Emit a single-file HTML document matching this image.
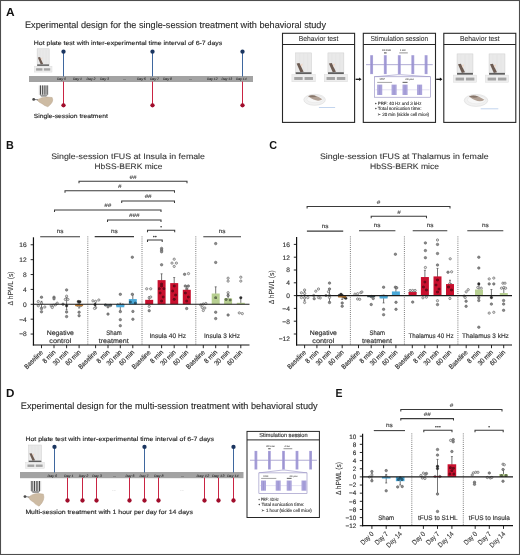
<!DOCTYPE html><html><head><meta charset="utf-8"><style>html,body{margin:0;padding:0;background:#fff;}svg{display:block;}text{font-family:"Liberation Sans",sans-serif;text-rendering:geometricPrecision;}svg{will-change:transform;}</style></head><body>
<svg width="520" height="555" viewBox="0 0 520 555" font-family='"Liberation Sans", sans-serif' fill="#2a2a2a">
<rect width="520" height="555" fill="#fff"/>
<rect x="0.50" y="0.50" width="519.00" height="554.00" fill="none" stroke="#4d4d4d" stroke-width="1.1" />
<text x="6.00" y="15.60" font-size="11.6" fill="#111" textLength="8.60" lengthAdjust="spacingAndGlyphs" font-weight="bold">A</text>
<text x="25.00" y="27.60" font-size="9.3" textLength="301.00" lengthAdjust="spacingAndGlyphs" stroke="#2a2a2a" stroke-width="0.112">Experimental design for the single-session treatment with behavioral study</text>
<text x="33.80" y="44.80" font-size="6.1" textLength="188.50" lengthAdjust="spacingAndGlyphs" stroke="#2a2a2a" stroke-width="0.152">Hot plate test with inter-experimental time interval of 6-7 days</text>
<text x="33.80" y="117.50" font-size="6.1" textLength="74.00" lengthAdjust="spacingAndGlyphs" stroke="#2a2a2a" stroke-width="0.152">Single-session treatment</text>
<rect x="29.00" y="76.00" width="224.00" height="6.00" fill="#a3a3a3" />
<text x="57.00" y="80.30" font-size="3.4" fill="#303030" textLength="9.00" lengthAdjust="spacingAndGlyphs" font-style="italic" stroke="#303030" stroke-width="0.085">Day 0</text>
<text x="73.00" y="80.30" font-size="3.4" fill="#303030" textLength="9.00" lengthAdjust="spacingAndGlyphs" font-style="italic" stroke="#303030" stroke-width="0.085">Day 1</text>
<text x="86.50" y="80.30" font-size="3.4" fill="#303030" textLength="9.00" lengthAdjust="spacingAndGlyphs" font-style="italic" stroke="#303030" stroke-width="0.085">Day 2</text>
<text x="100.00" y="80.30" font-size="3.4" fill="#303030" textLength="9.00" lengthAdjust="spacingAndGlyphs" font-style="italic" stroke="#303030" stroke-width="0.085">Day 3</text>
<text x="123.00" y="80.30" font-size="3.4" fill="#303030" textLength="3.00" lengthAdjust="spacingAndGlyphs" font-style="italic" stroke="#303030" stroke-width="0.085">...</text>
<text x="137.00" y="80.30" font-size="3.4" fill="#303030" textLength="9.00" lengthAdjust="spacingAndGlyphs" font-style="italic" stroke="#303030" stroke-width="0.085">Day 6</text>
<text x="150.00" y="80.30" font-size="3.4" fill="#303030" textLength="9.00" lengthAdjust="spacingAndGlyphs" font-style="italic" stroke="#303030" stroke-width="0.085">Day 7</text>
<text x="163.00" y="80.30" font-size="3.4" fill="#303030" textLength="9.00" lengthAdjust="spacingAndGlyphs" font-style="italic" stroke="#303030" stroke-width="0.085">Day 8</text>
<text x="189.00" y="80.30" font-size="3.4" fill="#303030" textLength="3.00" lengthAdjust="spacingAndGlyphs" font-style="italic" stroke="#303030" stroke-width="0.085">...</text>
<text x="207.00" y="80.30" font-size="3.4" fill="#303030" textLength="10.50" lengthAdjust="spacingAndGlyphs" font-style="italic" stroke="#303030" stroke-width="0.085">Day 12</text>
<text x="221.50" y="80.30" font-size="3.4" fill="#303030" textLength="10.50" lengthAdjust="spacingAndGlyphs" font-style="italic" stroke="#303030" stroke-width="0.085">Day 13</text>
<text x="236.00" y="80.30" font-size="3.4" fill="#303030" textLength="10.50" lengthAdjust="spacingAndGlyphs" font-style="italic" stroke="#303030" stroke-width="0.085">Day 14</text>
<line x1="63.50" y1="51.70" x2="63.50" y2="76.50" stroke="#3f679e" stroke-width="1.0" />
<circle cx="63.50" cy="51.70" r="2.15" fill="#1b3560"/>
<line x1="152.50" y1="51.70" x2="152.50" y2="76.50" stroke="#3f679e" stroke-width="1.0" />
<circle cx="152.50" cy="51.70" r="2.15" fill="#1b3560"/>
<line x1="242.50" y1="51.70" x2="242.50" y2="76.50" stroke="#3f679e" stroke-width="1.0" />
<circle cx="242.50" cy="51.70" r="2.15" fill="#1b3560"/>
<line x1="63.50" y1="81.50" x2="63.50" y2="105.30" stroke="#c92443" stroke-width="1.0" />
<circle cx="63.50" cy="105.30" r="2.15" fill="#a00d2b"/>
<line x1="152.50" y1="81.50" x2="152.50" y2="105.30" stroke="#c92443" stroke-width="1.0" />
<circle cx="152.50" cy="105.30" r="2.15" fill="#a00d2b"/>
<line x1="242.50" y1="81.50" x2="242.50" y2="105.30" stroke="#c92443" stroke-width="1.0" />
<circle cx="242.50" cy="105.30" r="2.15" fill="#a00d2b"/>
<rect x="37.13" y="48.80" width="12.04" height="15.61" fill="#e9e9e9" stroke="#cdcdcd" stroke-width="0.5" />
<line x1="40.14" y1="49.60" x2="40.14" y2="63.91" stroke="#dedede" stroke-width="0.35" />
<line x1="43.15" y1="49.60" x2="43.15" y2="63.91" stroke="#dedede" stroke-width="0.35" />
<line x1="46.16" y1="49.60" x2="46.16" y2="63.91" stroke="#dedede" stroke-width="0.35" />
<path d="M37.85 57.39 L40.02 56.92 L43.15 63.94 L40.74 64.41 Z" fill="#6d5c53"/>
<path d="M40.74 58.17 L42.55 57.39 L41.71 60.51 Z" fill="#f0d8c8"/>
<rect x="37.13" y="64.41" width="12.04" height="1.51" fill="#5f5f5f" />
<rect x="34.30" y="66.16" width="17.70" height="5.94" fill="#eeeeee" stroke="#d8d8d8" stroke-width="0.4" />
<rect x="36.07" y="68.24" width="6.37" height="2.38" fill="#a4a4a4" />
<rect x="43.86" y="68.24" width="6.37" height="2.38" fill="#a4a4a4" />
<rect x="38.70" y="85.40" width="10.10" height="9.40" fill="#e4e4e4" />
<rect x="39.91" y="85.40" width="1.11" height="9.40" fill="#4a4a4a" />
<rect x="42.13" y="85.40" width="1.11" height="9.40" fill="#4a4a4a" />
<rect x="44.36" y="85.40" width="1.11" height="9.40" fill="#4a4a4a" />
<rect x="46.58" y="85.40" width="1.11" height="9.40" fill="#4a4a4a" />
<path d="M39.71 94.80 L47.79 94.80 L46.27 96.80 L41.23 96.80 Z" fill="#9a9a9a"/>
<path d="M37.13 99.98 Q43.15 95.77 52.18 97.56 Q54.33 102.08 47.88 106.80 Q44.23 105.75 42.08 103.65 Q38.85 102.60 37.13 99.98 Z" fill="#cdbba3" stroke="#b09a80" stroke-width="0.4"/>
<line x1="33.69" y1="99.45" x2="37.99" y2="99.77" stroke="#666" stroke-width="0.8" />
<circle cx="33.69" cy="99.45" r="1.4" fill="#4a4a4a"/>
<rect x="282.50" y="33.30" width="72.10" height="89.10" fill="#fff" stroke="#262626" stroke-width="1.1" />
<line x1="282.50" y1="44.50" x2="354.60" y2="44.50" stroke="#262626" stroke-width="1.1" />
<text x="318.55" y="40.90" font-size="7.2" text-anchor="middle" fill="#333" textLength="39.60" lengthAdjust="spacingAndGlyphs" stroke="#333" stroke-width="0.086">Behavior test</text>
<rect x="363.30" y="33.30" width="72.20" height="89.10" fill="#fff" stroke="#262626" stroke-width="1.1" />
<line x1="363.30" y1="44.50" x2="435.50" y2="44.50" stroke="#262626" stroke-width="1.1" />
<text x="399.40" y="40.90" font-size="7.2" text-anchor="middle" fill="#333" textLength="57.60" lengthAdjust="spacingAndGlyphs" stroke="#333" stroke-width="0.086">Stimulation session</text>
<rect x="443.80" y="33.30" width="72.00" height="89.10" fill="#fff" stroke="#262626" stroke-width="1.1" />
<line x1="443.80" y1="44.50" x2="515.80" y2="44.50" stroke="#262626" stroke-width="1.1" />
<text x="479.80" y="40.90" font-size="7.2" text-anchor="middle" fill="#333" textLength="39.60" lengthAdjust="spacingAndGlyphs" stroke="#333" stroke-width="0.086">Behavior test</text>
<rect x="295.64" y="52.90" width="15.91" height="19.36" fill="#e9e9e9" stroke="#cdcdcd" stroke-width="0.5" />
<line x1="299.62" y1="53.70" x2="299.62" y2="71.76" stroke="#dedede" stroke-width="0.35" />
<line x1="303.60" y1="53.70" x2="303.60" y2="71.76" stroke="#dedede" stroke-width="0.35" />
<line x1="307.58" y1="53.70" x2="307.58" y2="71.76" stroke="#dedede" stroke-width="0.35" />
<path d="M296.60 63.55 L299.46 62.97 L303.60 71.68 L300.42 72.26 Z" fill="#6d5c53"/>
<path d="M300.42 64.52 L302.80 63.55 L301.69 67.42 Z" fill="#f0d8c8"/>
<rect x="295.64" y="72.26" width="15.91" height="1.88" fill="#5f5f5f" />
<rect x="291.90" y="74.43" width="23.40" height="7.37" fill="#eeeeee" stroke="#d8d8d8" stroke-width="0.4" />
<rect x="294.24" y="77.01" width="8.42" height="2.95" fill="#a4a4a4" />
<rect x="304.54" y="77.01" width="8.42" height="2.95" fill="#a4a4a4" />
<rect x="327.94" y="52.90" width="15.91" height="19.36" fill="#e9e9e9" stroke="#cdcdcd" stroke-width="0.5" />
<line x1="331.92" y1="53.70" x2="331.92" y2="71.76" stroke="#dedede" stroke-width="0.35" />
<line x1="335.90" y1="53.70" x2="335.90" y2="71.76" stroke="#dedede" stroke-width="0.35" />
<line x1="339.88" y1="53.70" x2="339.88" y2="71.76" stroke="#dedede" stroke-width="0.35" />
<path d="M328.90 63.55 L331.76 62.97 L335.90 71.68 L332.72 72.26 Z" fill="#6d5c53"/>
<path d="M332.72 64.52 L335.10 63.55 L333.99 67.42 Z" fill="#f0d8c8"/>
<rect x="327.94" y="72.26" width="15.91" height="1.88" fill="#5f5f5f" />
<rect x="324.20" y="74.43" width="23.40" height="7.37" fill="#eeeeee" stroke="#d8d8d8" stroke-width="0.4" />
<rect x="326.54" y="77.01" width="8.42" height="2.95" fill="#a4a4a4" />
<rect x="336.84" y="77.01" width="8.42" height="2.95" fill="#a4a4a4" />
<ellipse cx="314.60" cy="99.80" rx="10.80" ry="5.50" fill="#f1f1f1" stroke="#dadada" stroke-width="0.6"/>
<ellipse cx="315.10" cy="99.20" rx="8.30" ry="3.50" fill="#f7f7f7" stroke="#e2e2e2" stroke-width="0.5"/>
<path d="M308.12 96.28 Q313.52 93.20 322.38 99.25 Q317.19 103.10 308.12 96.28 Z" fill="#a89688" opacity="0.9"/>
<path d="M308.12 96.28 Q312.44 94.30 316.76 96.50 Q312.44 98.15 308.12 96.28 Z" fill="#7d6b60" opacity="0.8"/>
<line x1="318.92" y1="107.50" x2="335.12" y2="107.50" stroke="#a9c3e6" stroke-width="0.7" />
<rect x="457.04" y="53.90" width="15.91" height="19.03" fill="#e9e9e9" stroke="#cdcdcd" stroke-width="0.5" />
<line x1="461.02" y1="54.70" x2="461.02" y2="72.43" stroke="#dedede" stroke-width="0.35" />
<line x1="465.00" y1="54.70" x2="465.00" y2="72.43" stroke="#dedede" stroke-width="0.35" />
<line x1="468.98" y1="54.70" x2="468.98" y2="72.43" stroke="#dedede" stroke-width="0.35" />
<path d="M458.00 64.37 L460.86 63.79 L465.00 72.36 L461.82 72.93 Z" fill="#6d5c53"/>
<path d="M461.82 65.32 L464.20 64.37 L463.09 68.17 Z" fill="#f0d8c8"/>
<rect x="457.04" y="72.93" width="15.91" height="1.85" fill="#5f5f5f" />
<rect x="453.30" y="75.06" width="23.40" height="7.24" fill="#eeeeee" stroke="#d8d8d8" stroke-width="0.4" />
<rect x="455.64" y="77.59" width="8.42" height="2.90" fill="#a4a4a4" />
<rect x="465.94" y="77.59" width="8.42" height="2.90" fill="#a4a4a4" />
<rect x="489.04" y="53.90" width="15.91" height="19.03" fill="#e9e9e9" stroke="#cdcdcd" stroke-width="0.5" />
<line x1="493.02" y1="54.70" x2="493.02" y2="72.43" stroke="#dedede" stroke-width="0.35" />
<line x1="497.00" y1="54.70" x2="497.00" y2="72.43" stroke="#dedede" stroke-width="0.35" />
<line x1="500.98" y1="54.70" x2="500.98" y2="72.43" stroke="#dedede" stroke-width="0.35" />
<path d="M490.00 64.37 L492.86 63.79 L497.00 72.36 L493.82 72.93 Z" fill="#6d5c53"/>
<path d="M493.82 65.32 L496.20 64.37 L495.09 68.17 Z" fill="#f0d8c8"/>
<rect x="489.04" y="72.93" width="15.91" height="1.85" fill="#5f5f5f" />
<rect x="485.30" y="75.06" width="23.40" height="7.24" fill="#eeeeee" stroke="#d8d8d8" stroke-width="0.4" />
<rect x="487.64" y="77.59" width="8.42" height="2.90" fill="#a4a4a4" />
<rect x="497.94" y="77.59" width="8.42" height="2.90" fill="#a4a4a4" />
<ellipse cx="476.00" cy="100.40" rx="11.75" ry="6.00" fill="#f1f1f1" stroke="#dadada" stroke-width="0.6"/>
<ellipse cx="476.50" cy="99.80" rx="9.25" ry="4.00" fill="#f7f7f7" stroke="#e2e2e2" stroke-width="0.5"/>
<path d="M468.95 96.56 Q474.82 93.20 484.46 99.80 Q478.82 104.00 468.95 96.56 Z" fill="#a89688" opacity="0.9"/>
<path d="M468.95 96.56 Q473.65 94.40 478.35 96.80 Q473.65 98.60 468.95 96.56 Z" fill="#7d6b60" opacity="0.8"/>
<line x1="480.70" y1="108.80" x2="498.32" y2="108.80" stroke="#a9c3e6" stroke-width="0.7" />
<line x1="355.60" y1="79.30" x2="359.60" y2="79.30" stroke="#111" stroke-width="1.3" />
<path d="M359.10 77.50 L361.60 79.30 L359.10 81.10 Z" fill="#111"/>
<line x1="436.20" y1="79.30" x2="440.40" y2="79.30" stroke="#111" stroke-width="1.3" />
<path d="M439.90 77.50 L442.40 79.30 L439.90 81.10 Z" fill="#111"/>
<line x1="366.00" y1="64.70" x2="432.70" y2="64.70" stroke="#857db9" stroke-width="0.55" />
<rect x="370.15" y="55.20" width="2.90" height="18.90" fill="#aba4db" />
<line x1="371.60" y1="55.70" x2="371.60" y2="73.60" stroke="#8f86c8" stroke-width="0.5" />
<rect x="383.85" y="55.20" width="2.90" height="18.90" fill="#aba4db" />
<line x1="385.30" y1="55.70" x2="385.30" y2="73.60" stroke="#8f86c8" stroke-width="0.5" />
<rect x="397.85" y="55.20" width="2.90" height="18.90" fill="#aba4db" />
<line x1="399.30" y1="55.70" x2="399.30" y2="73.60" stroke="#8f86c8" stroke-width="0.5" />
<rect x="411.35" y="55.20" width="2.90" height="18.90" fill="#aba4db" />
<line x1="412.80" y1="55.70" x2="412.80" y2="73.60" stroke="#8f86c8" stroke-width="0.5" />
<rect x="424.65" y="55.20" width="2.90" height="18.90" fill="#aba4db" />
<line x1="426.10" y1="55.70" x2="426.10" y2="73.60" stroke="#8f86c8" stroke-width="0.5" />
<line x1="366.00" y1="64.70" x2="432.70" y2="64.70" stroke="#7d74b8" stroke-width="0.4" opacity="0.5"/>
<text x="386.50" y="50.60" font-size="2.6" text-anchor="middle" fill="#555" textLength="9.00" lengthAdjust="spacingAndGlyphs" stroke="#555" stroke-width="0.065">400 msec</text>
<rect x="384.00" y="52.30" width="2.60" height="1.20" fill="#666" />
<text x="402.85" y="50.60" font-size="2.6" text-anchor="middle" fill="#555" textLength="5.50" lengthAdjust="spacingAndGlyphs" stroke="#555" stroke-width="0.065">4 sec</text>
<line x1="399.30" y1="52.90" x2="407.80" y2="52.90" stroke="#666" stroke-width="0.7" />
<path d="M374.50 76.80 L397.80 74.70 L400.80 74.70 L430.50 76.80" fill="none" stroke="#8078b8" stroke-width="0.5"/>
<rect x="374.50" y="76.80" width="56.00" height="20.40" fill="#fff" stroke="#857eb8" stroke-width="0.55" />
<line x1="375.50" y1="89.80" x2="429.50" y2="89.80" stroke="#c9c4e6" stroke-width="0.5" />
<rect x="377.15" y="84.60" width="5.10" height="10.40" fill="#aba4db" />
<line x1="379.70" y1="85.10" x2="379.70" y2="94.50" stroke="#8f86c8" stroke-width="0.5" />
<rect x="391.55" y="84.60" width="5.10" height="10.40" fill="#aba4db" />
<line x1="394.10" y1="85.10" x2="394.10" y2="94.50" stroke="#8f86c8" stroke-width="0.5" />
<rect x="402.50" y="84.60" width="5.10" height="10.40" fill="#aba4db" />
<line x1="405.05" y1="85.10" x2="405.05" y2="94.50" stroke="#8f86c8" stroke-width="0.5" />
<rect x="417.05" y="84.60" width="5.10" height="10.40" fill="#aba4db" />
<line x1="419.60" y1="85.10" x2="419.60" y2="94.50" stroke="#8f86c8" stroke-width="0.5" />
<text x="382.20" y="80.40" font-size="2.4" text-anchor="middle" fill="#555" textLength="5.50" lengthAdjust="spacingAndGlyphs" stroke="#555" stroke-width="0.060">1/PRF</text>
<line x1="377.20" y1="82.40" x2="392.10" y2="82.40" stroke="#666" stroke-width="0.6" />
<text x="409.55" y="80.40" font-size="2.4" text-anchor="middle" fill="#555" textLength="8.50" lengthAdjust="spacingAndGlyphs" stroke="#555" stroke-width="0.060">200 µsec</text>
<rect x="402.55" y="81.80" width="5.00" height="1.20" fill="#777" />
<text x="375.00" y="104.90" font-size="4.7" fill="#333" textLength="46.50" lengthAdjust="spacingAndGlyphs" stroke="#333" stroke-width="0.118">• PRF: 40 Hz and 3 kHz</text>
<text x="375.00" y="110.20" font-size="4.7" fill="#333" textLength="46.50" lengthAdjust="spacingAndGlyphs" stroke="#333" stroke-width="0.118">• Total sonication time:</text>
<text x="377.30" y="115.70" font-size="4.7" fill="#333" textLength="51.80" lengthAdjust="spacingAndGlyphs" stroke="#333" stroke-width="0.118">➢ 20 min (sickle cell mice)</text>
<text x="6.00" y="148.90" font-size="11.6" fill="#111" textLength="7.80" lengthAdjust="spacingAndGlyphs" font-weight="bold">B</text>
<text x="51.20" y="158.70" font-size="8" fill="#333" textLength="153.80" lengthAdjust="spacingAndGlyphs" stroke="#333" stroke-width="0.096">Single-session tFUS at Insula in female</text>
<text x="94.50" y="168.70" font-size="8" fill="#333" textLength="68.00" lengthAdjust="spacingAndGlyphs" stroke="#333" stroke-width="0.096">HbSS-BERK mice</text>
<path d="M79.00 183.30 L79.00 181.30 L187.00 181.30 L187.00 183.30" fill="none" stroke="#3a3a3a" stroke-width="1.05"/>
<text x="133.00" y="178.60" font-size="5.2" text-anchor="middle" fill="#3a3a3a" textLength="6.90" lengthAdjust="spacingAndGlyphs" font-style="italic" stroke="#3a3a3a" stroke-width="0.130">##</text>
<path d="M65.00 192.70 L65.00 190.70 L174.50 190.70 L174.50 192.70" fill="none" stroke="#3a3a3a" stroke-width="1.05"/>
<text x="119.75" y="188.00" font-size="5.2" text-anchor="middle" fill="#3a3a3a" textLength="3.45" lengthAdjust="spacingAndGlyphs" font-style="italic" stroke="#3a3a3a" stroke-width="0.130">#</text>
<path d="M121.70 203.00 L121.70 201.00 L174.50 201.00 L174.50 203.00" fill="none" stroke="#3a3a3a" stroke-width="1.05"/>
<text x="148.10" y="198.30" font-size="5.2" text-anchor="middle" fill="#3a3a3a" textLength="6.90" lengthAdjust="spacingAndGlyphs" font-style="italic" stroke="#3a3a3a" stroke-width="0.130">##</text>
<path d="M54.50 212.00 L54.50 210.00 L161.00 210.00 L161.00 212.00" fill="none" stroke="#3a3a3a" stroke-width="1.05"/>
<text x="107.75" y="207.30" font-size="5.2" text-anchor="middle" fill="#3a3a3a" textLength="6.90" lengthAdjust="spacingAndGlyphs" font-style="italic" stroke="#3a3a3a" stroke-width="0.130">##</text>
<path d="M107.50 222.00 L107.50 220.00 L161.00 220.00 L161.00 222.00" fill="none" stroke="#3a3a3a" stroke-width="1.05"/>
<text x="134.25" y="217.30" font-size="5.2" text-anchor="middle" fill="#3a3a3a" textLength="10.35" lengthAdjust="spacingAndGlyphs" font-style="italic" stroke="#3a3a3a" stroke-width="0.130">###</text>
<path d="M147.50 232.20 L147.50 230.20 L174.70 230.20 L174.70 232.20" fill="none" stroke="#3a3a3a" stroke-width="1.05"/>
<circle cx="161.10" cy="226.80" r="0.78" fill="#2a2a2a"/>
<path d="M147.50 242.00 L147.50 240.00 L162.20 240.00 L162.20 242.00" fill="none" stroke="#3a3a3a" stroke-width="1.05"/>
<circle cx="153.85" cy="236.60" r="0.78" fill="#2a2a2a"/>
<circle cx="155.85" cy="236.60" r="0.78" fill="#2a2a2a"/>
<line x1="40.20" y1="236.80" x2="80.00" y2="236.80" stroke="#3a3a3a" stroke-width="1.05" />
<text x="60.10" y="233.30" font-size="6.0" text-anchor="middle" fill="#3a3a3a" textLength="6.70" lengthAdjust="spacingAndGlyphs" stroke="#3a3a3a" stroke-width="0.150">ns</text>
<line x1="94.70" y1="236.60" x2="134.00" y2="236.60" stroke="#3a3a3a" stroke-width="1.05" />
<text x="114.35" y="233.10" font-size="6.0" text-anchor="middle" fill="#3a3a3a" textLength="6.70" lengthAdjust="spacingAndGlyphs" stroke="#3a3a3a" stroke-width="0.150">ns</text>
<line x1="203.30" y1="236.80" x2="241.00" y2="236.80" stroke="#3a3a3a" stroke-width="1.05" />
<text x="222.15" y="233.30" font-size="6.0" text-anchor="middle" fill="#3a3a3a" textLength="6.70" lengthAdjust="spacingAndGlyphs" stroke="#3a3a3a" stroke-width="0.150">ns</text>
<line x1="87.80" y1="236.50" x2="87.80" y2="345.00" stroke="#333" stroke-width="0.8" stroke-dasharray="0.8 1.3"/>
<line x1="142.00" y1="236.50" x2="142.00" y2="345.00" stroke="#333" stroke-width="0.8" stroke-dasharray="0.8 1.3"/>
<line x1="195.80" y1="236.50" x2="195.80" y2="345.00" stroke="#333" stroke-width="0.8" stroke-dasharray="0.8 1.3"/>
<line x1="41.50" y1="307.28" x2="41.50" y2="301.32" stroke="#3a3a3a" stroke-width="0.7" />
<line x1="40.50" y1="301.32" x2="42.50" y2="301.32" stroke="#3a3a3a" stroke-width="0.6" />
<line x1="40.50" y1="307.28" x2="42.50" y2="307.28" stroke="#3a3a3a" stroke-width="0.6" />
<circle cx="41.50" cy="297.20" r="1.25" fill="#8c8c8c" stroke="#505050" stroke-width="0.5"/>
<circle cx="38.30" cy="301.50" r="1.15" fill="#e2e2e2" stroke="#555" stroke-width="0.6"/>
<circle cx="41.50" cy="303.20" r="1.15" fill="#e2e2e2" stroke="#555" stroke-width="0.6"/>
<circle cx="38.30" cy="305.80" r="1.15" fill="#e2e2e2" stroke="#555" stroke-width="0.6"/>
<circle cx="41.50" cy="308.50" r="1.25" fill="#8c8c8c" stroke="#505050" stroke-width="0.5"/>
<circle cx="44.80" cy="307.00" r="1.15" fill="#e2e2e2" stroke="#555" stroke-width="0.6"/>
<circle cx="41.50" cy="311.80" r="1.25" fill="#8c8c8c" stroke="#505050" stroke-width="0.5"/>
<circle cx="54.00" cy="297.20" r="1.25" fill="#8c8c8c" stroke="#505050" stroke-width="0.5"/>
<circle cx="54.00" cy="298.80" r="1.25" fill="#8c8c8c" stroke="#505050" stroke-width="0.5"/>
<circle cx="51.20" cy="305.80" r="1.15" fill="#e2e2e2" stroke="#555" stroke-width="0.6"/>
<circle cx="53.40" cy="305.30" r="1.15" fill="#e2e2e2" stroke="#555" stroke-width="0.6"/>
<circle cx="55.50" cy="304.80" r="1.15" fill="#e2e2e2" stroke="#555" stroke-width="0.6"/>
<circle cx="57.20" cy="303.20" r="1.15" fill="#e2e2e2" stroke="#555" stroke-width="0.6"/>
<circle cx="52.30" cy="307.50" r="1.15" fill="#e2e2e2" stroke="#555" stroke-width="0.6"/>
<line x1="66.60" y1="309.88" x2="66.60" y2="297.60" stroke="#3a3a3a" stroke-width="0.7" />
<line x1="65.60" y1="297.60" x2="67.60" y2="297.60" stroke="#3a3a3a" stroke-width="0.6" />
<line x1="65.60" y1="309.88" x2="67.60" y2="309.88" stroke="#3a3a3a" stroke-width="0.6" />
<circle cx="66.60" cy="289.90" r="1.25" fill="#8c8c8c" stroke="#505050" stroke-width="0.5"/>
<circle cx="66.60" cy="296.20" r="1.15" fill="#e2e2e2" stroke="#555" stroke-width="0.6"/>
<circle cx="65.30" cy="299.40" r="1.15" fill="#e2e2e2" stroke="#555" stroke-width="0.6"/>
<circle cx="67.90" cy="299.40" r="1.15" fill="#e2e2e2" stroke="#555" stroke-width="0.6"/>
<circle cx="66.60" cy="305.80" r="1.3" fill="#2e2e2e" stroke="#1a1a1a" stroke-width="0.3"/>
<circle cx="66.60" cy="312.00" r="1.25" fill="#8c8c8c" stroke="#505050" stroke-width="0.5"/>
<circle cx="66.60" cy="316.60" r="1.25" fill="#8c8c8c" stroke="#505050" stroke-width="0.5"/>
<circle cx="63.00" cy="304.20" r="1.25" fill="#8c8c8c" stroke="#505050" stroke-width="0.5"/>
<line x1="79.10" y1="308.02" x2="79.10" y2="303.18" stroke="#3a3a3a" stroke-width="0.7" />
<line x1="78.10" y1="303.18" x2="80.10" y2="303.18" stroke="#3a3a3a" stroke-width="0.6" />
<line x1="78.10" y1="308.02" x2="80.10" y2="308.02" stroke="#3a3a3a" stroke-width="0.6" />
<circle cx="78.30" cy="301.60" r="1.3" fill="#2e2e2e" stroke="#1a1a1a" stroke-width="0.3"/>
<circle cx="79.90" cy="301.80" r="1.3" fill="#2e2e2e" stroke="#1a1a1a" stroke-width="0.3"/>
<circle cx="77.60" cy="305.20" r="1.25" fill="#8c8c8c" stroke="#505050" stroke-width="0.5"/>
<circle cx="80.60" cy="305.60" r="1.25" fill="#8c8c8c" stroke="#505050" stroke-width="0.5"/>
<circle cx="79.10" cy="312.20" r="1.25" fill="#8c8c8c" stroke="#505050" stroke-width="0.5"/>
<circle cx="79.10" cy="315.70" r="1.25" fill="#8c8c8c" stroke="#505050" stroke-width="0.5"/>
<rect x="75.10" y="304.30" width="8.00" height="1.86" fill="#b8772f" />
<line x1="95.60" y1="307.28" x2="95.60" y2="301.32" stroke="#3a3a3a" stroke-width="0.7" />
<line x1="94.60" y1="301.32" x2="96.60" y2="301.32" stroke="#3a3a3a" stroke-width="0.6" />
<line x1="94.60" y1="307.28" x2="96.60" y2="307.28" stroke="#3a3a3a" stroke-width="0.6" />
<circle cx="92.90" cy="300.80" r="1.15" fill="#e2e2e2" stroke="#555" stroke-width="0.6"/>
<circle cx="95.60" cy="301.40" r="1.15" fill="#e2e2e2" stroke="#555" stroke-width="0.6"/>
<circle cx="98.80" cy="300.00" r="1.15" fill="#e2e2e2" stroke="#555" stroke-width="0.6"/>
<circle cx="95.00" cy="304.60" r="1.3" fill="#2e2e2e" stroke="#1a1a1a" stroke-width="0.3"/>
<circle cx="95.60" cy="307.80" r="1.15" fill="#e2e2e2" stroke="#555" stroke-width="0.6"/>
<circle cx="94.50" cy="308.40" r="1.15" fill="#e2e2e2" stroke="#555" stroke-width="0.6"/>
<circle cx="108.00" cy="306.80" r="1.25" fill="#8c8c8c" stroke="#505050" stroke-width="0.5"/>
<circle cx="108.00" cy="314.10" r="1.25" fill="#8c8c8c" stroke="#505050" stroke-width="0.5"/>
<circle cx="105.50" cy="305.00" r="1.25" fill="#8c8c8c" stroke="#505050" stroke-width="0.5"/>
<circle cx="110.50" cy="305.50" r="1.25" fill="#8c8c8c" stroke="#505050" stroke-width="0.5"/>
<rect x="104.00" y="304.30" width="8.00" height="1.30" fill="#3d4f55" />
<line x1="120.30" y1="311.74" x2="120.30" y2="303.18" stroke="#3a3a3a" stroke-width="0.7" />
<line x1="119.30" y1="303.18" x2="121.30" y2="303.18" stroke="#3a3a3a" stroke-width="0.6" />
<line x1="119.30" y1="311.74" x2="121.30" y2="311.74" stroke="#3a3a3a" stroke-width="0.6" />
<circle cx="120.30" cy="294.30" r="1.25" fill="#8c8c8c" stroke="#505050" stroke-width="0.5"/>
<circle cx="120.30" cy="311.60" r="1.25" fill="#8c8c8c" stroke="#505050" stroke-width="0.5"/>
<circle cx="120.30" cy="319.70" r="1.25" fill="#8c8c8c" stroke="#505050" stroke-width="0.5"/>
<circle cx="120.30" cy="325.70" r="1.25" fill="#8c8c8c" stroke="#505050" stroke-width="0.5"/>
<circle cx="117.80" cy="305.00" r="1.25" fill="#8c8c8c" stroke="#505050" stroke-width="0.5"/>
<circle cx="122.80" cy="305.00" r="1.25" fill="#8c8c8c" stroke="#505050" stroke-width="0.5"/>
<rect x="116.30" y="304.30" width="8.00" height="2.98" fill="#4aa9d9" />
<line x1="132.80" y1="303.56" x2="132.80" y2="294.63" stroke="#3a3a3a" stroke-width="0.7" />
<line x1="131.80" y1="294.63" x2="133.80" y2="294.63" stroke="#3a3a3a" stroke-width="0.6" />
<line x1="131.80" y1="303.56" x2="133.80" y2="303.56" stroke="#3a3a3a" stroke-width="0.6" />
<circle cx="132.30" cy="257.20" r="1.25" fill="#8c8c8c" stroke="#505050" stroke-width="0.5"/>
<circle cx="132.30" cy="294.30" r="1.25" fill="#8c8c8c" stroke="#505050" stroke-width="0.5"/>
<circle cx="132.90" cy="311.40" r="1.25" fill="#8c8c8c" stroke="#505050" stroke-width="0.5"/>
<circle cx="132.90" cy="319.20" r="1.25" fill="#8c8c8c" stroke="#505050" stroke-width="0.5"/>
<rect x="128.80" y="299.09" width="8.00" height="5.21" fill="#4aa9d9" />
<circle cx="130.30" cy="302.00" r="1.3" fill="#000"/>
<circle cx="130.30" cy="302.00" r="1.3" fill="#4aa9d9" opacity="0.55"/>
<circle cx="135.30" cy="303.00" r="1.3" fill="#000"/>
<circle cx="135.30" cy="303.00" r="1.3" fill="#4aa9d9" opacity="0.55"/>
<line x1="149.20" y1="302.44" x2="149.20" y2="296.86" stroke="#3a3a3a" stroke-width="0.7" />
<line x1="148.20" y1="296.86" x2="150.20" y2="296.86" stroke="#3a3a3a" stroke-width="0.6" />
<line x1="148.20" y1="302.44" x2="150.20" y2="302.44" stroke="#3a3a3a" stroke-width="0.6" />
<circle cx="146.70" cy="288.80" r="1.15" fill="#e2e2e2" stroke="#555" stroke-width="0.6"/>
<circle cx="150.70" cy="288.80" r="1.15" fill="#e2e2e2" stroke="#555" stroke-width="0.6"/>
<circle cx="149.20" cy="297.70" r="1.15" fill="#e2e2e2" stroke="#555" stroke-width="0.6"/>
<circle cx="150.70" cy="297.00" r="1.15" fill="#e2e2e2" stroke="#555" stroke-width="0.6"/>
<circle cx="149.20" cy="306.40" r="1.15" fill="#e2e2e2" stroke="#555" stroke-width="0.6"/>
<circle cx="149.20" cy="310.70" r="1.25" fill="#8c8c8c" stroke="#505050" stroke-width="0.5"/>
<rect x="145.20" y="299.84" width="8.00" height="4.46" fill="#c8102e" />
<line x1="161.60" y1="285.70" x2="161.60" y2="273.80" stroke="#3a3a3a" stroke-width="0.7" />
<line x1="160.60" y1="273.80" x2="162.60" y2="273.80" stroke="#3a3a3a" stroke-width="0.6" />
<line x1="160.60" y1="285.70" x2="162.60" y2="285.70" stroke="#3a3a3a" stroke-width="0.6" />
<circle cx="161.60" cy="248.40" r="1.25" fill="#8c8c8c" stroke="#505050" stroke-width="0.5"/>
<circle cx="161.60" cy="250.10" r="1.25" fill="#8c8c8c" stroke="#505050" stroke-width="0.5"/>
<circle cx="161.60" cy="251.80" r="1.25" fill="#8c8c8c" stroke="#505050" stroke-width="0.5"/>
<circle cx="161.60" cy="264.80" r="1.25" fill="#8c8c8c" stroke="#505050" stroke-width="0.5"/>
<rect x="157.60" y="280.12" width="8.00" height="24.18" fill="#c8102e" />
<circle cx="161.60" cy="284.00" r="1.3" fill="#000"/>
<circle cx="161.60" cy="284.00" r="1.3" fill="#c8102e" opacity="0.55"/>
<circle cx="160.10" cy="293.00" r="1.3" fill="#000"/>
<circle cx="160.10" cy="293.00" r="1.3" fill="#c8102e" opacity="0.55"/>
<circle cx="163.10" cy="297.00" r="1.3" fill="#000"/>
<circle cx="163.10" cy="297.00" r="1.3" fill="#c8102e" opacity="0.55"/>
<circle cx="161.60" cy="301.00" r="1.3" fill="#000"/>
<circle cx="161.60" cy="301.00" r="1.3" fill="#c8102e" opacity="0.55"/>
<circle cx="159.30" cy="288.80" r="1.3" fill="#000"/>
<circle cx="159.30" cy="288.80" r="1.3" fill="#c8102e" opacity="0.55"/>
<circle cx="163.90" cy="288.80" r="1.3" fill="#000"/>
<circle cx="163.90" cy="288.80" r="1.3" fill="#c8102e" opacity="0.55"/>
<circle cx="161.60" cy="286.00" r="1.3" fill="#000"/>
<circle cx="161.60" cy="286.00" r="1.3" fill="#c8102e" opacity="0.55"/>
<line x1="174.20" y1="288.30" x2="174.20" y2="277.52" stroke="#3a3a3a" stroke-width="0.7" />
<line x1="173.20" y1="277.52" x2="175.20" y2="277.52" stroke="#3a3a3a" stroke-width="0.6" />
<line x1="173.20" y1="288.30" x2="175.20" y2="288.30" stroke="#3a3a3a" stroke-width="0.6" />
<circle cx="174.20" cy="259.20" r="1.15" fill="#e2e2e2" stroke="#555" stroke-width="0.6"/>
<circle cx="172.00" cy="263.10" r="1.15" fill="#e2e2e2" stroke="#555" stroke-width="0.6"/>
<circle cx="176.40" cy="263.10" r="1.15" fill="#e2e2e2" stroke="#555" stroke-width="0.6"/>
<circle cx="174.20" cy="266.40" r="1.15" fill="#e2e2e2" stroke="#555" stroke-width="0.6"/>
<rect x="170.20" y="283.10" width="8.00" height="21.20" fill="#c8102e" />
<circle cx="174.20" cy="286.00" r="1.3" fill="#000"/>
<circle cx="174.20" cy="286.00" r="1.3" fill="#c8102e" opacity="0.55"/>
<circle cx="172.70" cy="291.00" r="1.3" fill="#000"/>
<circle cx="172.70" cy="291.00" r="1.3" fill="#c8102e" opacity="0.55"/>
<circle cx="175.70" cy="295.00" r="1.3" fill="#000"/>
<circle cx="175.70" cy="295.00" r="1.3" fill="#c8102e" opacity="0.55"/>
<circle cx="174.20" cy="299.20" r="1.3" fill="#000"/>
<circle cx="174.20" cy="299.20" r="1.3" fill="#c8102e" opacity="0.55"/>
<line x1="186.80" y1="293.14" x2="186.80" y2="286.07" stroke="#3a3a3a" stroke-width="0.7" />
<line x1="185.80" y1="286.07" x2="187.80" y2="286.07" stroke="#3a3a3a" stroke-width="0.6" />
<line x1="185.80" y1="293.14" x2="187.80" y2="293.14" stroke="#3a3a3a" stroke-width="0.6" />
<circle cx="184.60" cy="274.30" r="1.25" fill="#8c8c8c" stroke="#505050" stroke-width="0.5"/>
<circle cx="188.50" cy="273.60" r="1.15" fill="#e2e2e2" stroke="#555" stroke-width="0.6"/>
<circle cx="185.30" cy="286.00" r="1.25" fill="#8c8c8c" stroke="#505050" stroke-width="0.5"/>
<circle cx="188.30" cy="286.00" r="1.25" fill="#8c8c8c" stroke="#505050" stroke-width="0.5"/>
<circle cx="186.80" cy="289.00" r="1.25" fill="#8c8c8c" stroke="#505050" stroke-width="0.5"/>
<circle cx="186.70" cy="308.50" r="1.25" fill="#8c8c8c" stroke="#505050" stroke-width="0.5"/>
<rect x="182.80" y="289.79" width="8.00" height="14.51" fill="#c8102e" />
<circle cx="185.30" cy="293.00" r="1.3" fill="#000"/>
<circle cx="185.30" cy="293.00" r="1.3" fill="#c8102e" opacity="0.55"/>
<circle cx="188.30" cy="297.00" r="1.3" fill="#000"/>
<circle cx="188.30" cy="297.00" r="1.3" fill="#c8102e" opacity="0.55"/>
<circle cx="186.80" cy="301.00" r="1.3" fill="#000"/>
<circle cx="186.80" cy="301.00" r="1.3" fill="#c8102e" opacity="0.55"/>
<circle cx="200.80" cy="305.00" r="1.15" fill="#e2e2e2" stroke="#555" stroke-width="0.6"/>
<circle cx="203.30" cy="304.00" r="1.15" fill="#e2e2e2" stroke="#555" stroke-width="0.6"/>
<circle cx="205.80" cy="303.50" r="1.15" fill="#e2e2e2" stroke="#555" stroke-width="0.6"/>
<circle cx="202.30" cy="307.50" r="1.15" fill="#e2e2e2" stroke="#555" stroke-width="0.6"/>
<circle cx="204.80" cy="308.00" r="1.15" fill="#e2e2e2" stroke="#555" stroke-width="0.6"/>
<circle cx="203.30" cy="310.50" r="1.15" fill="#e2e2e2" stroke="#555" stroke-width="0.6"/>
<line x1="215.70" y1="297.60" x2="215.70" y2="286.82" stroke="#3a3a3a" stroke-width="0.7" />
<line x1="214.70" y1="286.82" x2="216.70" y2="286.82" stroke="#3a3a3a" stroke-width="0.6" />
<line x1="214.70" y1="297.60" x2="216.70" y2="297.60" stroke="#3a3a3a" stroke-width="0.6" />
<circle cx="215.70" cy="243.60" r="1.25" fill="#8c8c8c" stroke="#505050" stroke-width="0.5"/>
<circle cx="215.70" cy="262.40" r="1.25" fill="#8c8c8c" stroke="#505050" stroke-width="0.5"/>
<circle cx="215.70" cy="312.20" r="1.25" fill="#8c8c8c" stroke="#505050" stroke-width="0.5"/>
<circle cx="215.70" cy="318.60" r="1.25" fill="#8c8c8c" stroke="#505050" stroke-width="0.5"/>
<rect x="211.70" y="293.51" width="8.00" height="10.79" fill="#b7cf91" />
<circle cx="215.70" cy="297.70" r="1.3" fill="#000"/>
<circle cx="215.70" cy="297.70" r="1.3" fill="#b7cf91" opacity="0.55"/>
<line x1="228.10" y1="301.32" x2="228.10" y2="293.88" stroke="#3a3a3a" stroke-width="0.7" />
<line x1="227.10" y1="293.88" x2="229.10" y2="293.88" stroke="#3a3a3a" stroke-width="0.6" />
<line x1="227.10" y1="301.32" x2="229.10" y2="301.32" stroke="#3a3a3a" stroke-width="0.6" />
<circle cx="228.10" cy="278.20" r="1.15" fill="#e2e2e2" stroke="#555" stroke-width="0.6"/>
<circle cx="228.10" cy="281.10" r="1.15" fill="#e2e2e2" stroke="#555" stroke-width="0.6"/>
<circle cx="228.10" cy="292.70" r="1.15" fill="#e2e2e2" stroke="#555" stroke-width="0.6"/>
<circle cx="228.10" cy="295.50" r="1.25" fill="#8c8c8c" stroke="#505050" stroke-width="0.5"/>
<circle cx="228.10" cy="315.00" r="1.25" fill="#8c8c8c" stroke="#505050" stroke-width="0.5"/>
<rect x="224.10" y="298.35" width="8.00" height="5.95" fill="#b7cf91" />
<circle cx="226.10" cy="299.50" r="1.3" fill="#000"/>
<circle cx="226.10" cy="299.50" r="1.3" fill="#b7cf91" opacity="0.55"/>
<circle cx="230.10" cy="300.00" r="1.3" fill="#000"/>
<circle cx="230.10" cy="300.00" r="1.3" fill="#b7cf91" opacity="0.55"/>
<line x1="240.80" y1="303.56" x2="240.80" y2="297.60" stroke="#3a3a3a" stroke-width="0.7" />
<line x1="239.80" y1="297.60" x2="241.80" y2="297.60" stroke="#3a3a3a" stroke-width="0.6" />
<line x1="239.80" y1="303.56" x2="241.80" y2="303.56" stroke="#3a3a3a" stroke-width="0.6" />
<circle cx="240.80" cy="277.20" r="1.15" fill="#e2e2e2" stroke="#555" stroke-width="0.6"/>
<circle cx="240.80" cy="281.10" r="1.15" fill="#e2e2e2" stroke="#555" stroke-width="0.6"/>
<circle cx="240.80" cy="297.70" r="1.3" fill="#2e2e2e" stroke="#1a1a1a" stroke-width="0.3"/>
<circle cx="239.30" cy="312.90" r="1.15" fill="#e2e2e2" stroke="#555" stroke-width="0.6"/>
<circle cx="242.30" cy="313.60" r="1.15" fill="#e2e2e2" stroke="#555" stroke-width="0.6"/>
<rect x="236.80" y="302.81" width="8.00" height="1.49" fill="#b7cf91" />
<line x1="33.45" y1="304.30" x2="249.50" y2="304.30" stroke="#1a1a1a" stroke-width="1.1" />
<line x1="33.45" y1="237.30" x2="33.45" y2="345.50" stroke="#111" stroke-width="1.2" />
<line x1="32.85" y1="345.00" x2="249.50" y2="345.00" stroke="#111" stroke-width="1.2" />
<line x1="30.65" y1="244.78" x2="33.45" y2="244.78" stroke="#111" stroke-width="0.9" />
<text x="26.70" y="247.13" font-size="6.6" text-anchor="end" fill="#333" stroke="#333" stroke-width="0.165">16</text>
<line x1="30.65" y1="259.66" x2="33.45" y2="259.66" stroke="#111" stroke-width="0.9" />
<text x="26.70" y="262.01" font-size="6.6" text-anchor="end" fill="#333" stroke="#333" stroke-width="0.165">12</text>
<line x1="30.65" y1="274.54" x2="33.45" y2="274.54" stroke="#111" stroke-width="0.9" />
<text x="26.70" y="276.89" font-size="6.6" text-anchor="end" fill="#333" stroke="#333" stroke-width="0.165">8</text>
<line x1="30.65" y1="289.42" x2="33.45" y2="289.42" stroke="#111" stroke-width="0.9" />
<text x="26.70" y="291.77" font-size="6.6" text-anchor="end" fill="#333" stroke="#333" stroke-width="0.165">4</text>
<line x1="30.65" y1="304.30" x2="33.45" y2="304.30" stroke="#111" stroke-width="0.9" />
<text x="26.70" y="306.65" font-size="6.6" text-anchor="end" fill="#333" stroke="#333" stroke-width="0.165">0</text>
<line x1="30.65" y1="319.18" x2="33.45" y2="319.18" stroke="#111" stroke-width="0.9" />
<text x="26.70" y="321.53" font-size="6.6" text-anchor="end" fill="#333" stroke="#333" stroke-width="0.165">−4</text>
<line x1="30.65" y1="334.06" x2="33.45" y2="334.06" stroke="#111" stroke-width="0.9" />
<text x="26.70" y="336.41" font-size="6.6" text-anchor="end" fill="#333" stroke="#333" stroke-width="0.165">−8</text>
<line x1="41.50" y1="345.00" x2="41.50" y2="348.20" stroke="#111" stroke-width="0.9" />
<text x="43.50" y="352.90" font-size="6.9" text-anchor="end" fill="#333" textLength="23.50" lengthAdjust="spacingAndGlyphs" transform="rotate(-45 43.50 352.90)" stroke="#333" stroke-width="0.173">Baseline</text>
<line x1="54.00" y1="345.00" x2="54.00" y2="348.20" stroke="#111" stroke-width="0.9" />
<text x="56.00" y="352.90" font-size="6.9" text-anchor="end" fill="#333" textLength="15.30" lengthAdjust="spacingAndGlyphs" transform="rotate(-45 56.00 352.90)" stroke="#333" stroke-width="0.173">8 min</text>
<line x1="66.60" y1="345.00" x2="66.60" y2="348.20" stroke="#111" stroke-width="0.9" />
<text x="68.60" y="352.90" font-size="6.9" text-anchor="end" fill="#333" textLength="18.50" lengthAdjust="spacingAndGlyphs" transform="rotate(-45 68.60 352.90)" stroke="#333" stroke-width="0.173">30 min</text>
<line x1="79.10" y1="345.00" x2="79.10" y2="348.20" stroke="#111" stroke-width="0.9" />
<text x="81.10" y="352.90" font-size="6.9" text-anchor="end" fill="#333" textLength="18.50" lengthAdjust="spacingAndGlyphs" transform="rotate(-45 81.10 352.90)" stroke="#333" stroke-width="0.173">60 min</text>
<line x1="95.60" y1="345.00" x2="95.60" y2="348.20" stroke="#111" stroke-width="0.9" />
<text x="97.60" y="352.90" font-size="6.9" text-anchor="end" fill="#333" textLength="23.50" lengthAdjust="spacingAndGlyphs" transform="rotate(-45 97.60 352.90)" stroke="#333" stroke-width="0.173">Baseline</text>
<line x1="108.00" y1="345.00" x2="108.00" y2="348.20" stroke="#111" stroke-width="0.9" />
<text x="110.00" y="352.90" font-size="6.9" text-anchor="end" fill="#333" textLength="15.30" lengthAdjust="spacingAndGlyphs" transform="rotate(-45 110.00 352.90)" stroke="#333" stroke-width="0.173">8 min</text>
<line x1="120.30" y1="345.00" x2="120.30" y2="348.20" stroke="#111" stroke-width="0.9" />
<text x="122.30" y="352.90" font-size="6.9" text-anchor="end" fill="#333" textLength="18.50" lengthAdjust="spacingAndGlyphs" transform="rotate(-45 122.30 352.90)" stroke="#333" stroke-width="0.173">30 min</text>
<line x1="132.80" y1="345.00" x2="132.80" y2="348.20" stroke="#111" stroke-width="0.9" />
<text x="134.80" y="352.90" font-size="6.9" text-anchor="end" fill="#333" textLength="18.50" lengthAdjust="spacingAndGlyphs" transform="rotate(-45 134.80 352.90)" stroke="#333" stroke-width="0.173">60 min</text>
<line x1="149.20" y1="345.00" x2="149.20" y2="348.20" stroke="#111" stroke-width="0.9" />
<text x="151.20" y="352.90" font-size="6.9" text-anchor="end" fill="#333" textLength="23.50" lengthAdjust="spacingAndGlyphs" transform="rotate(-45 151.20 352.90)" stroke="#333" stroke-width="0.173">Baseline</text>
<line x1="161.60" y1="345.00" x2="161.60" y2="348.20" stroke="#111" stroke-width="0.9" />
<text x="163.60" y="352.90" font-size="6.9" text-anchor="end" fill="#333" textLength="15.30" lengthAdjust="spacingAndGlyphs" transform="rotate(-45 163.60 352.90)" stroke="#333" stroke-width="0.173">8 min</text>
<line x1="174.20" y1="345.00" x2="174.20" y2="348.20" stroke="#111" stroke-width="0.9" />
<text x="176.20" y="352.90" font-size="6.9" text-anchor="end" fill="#333" textLength="18.50" lengthAdjust="spacingAndGlyphs" transform="rotate(-45 176.20 352.90)" stroke="#333" stroke-width="0.173">30 min</text>
<line x1="186.80" y1="345.00" x2="186.80" y2="348.20" stroke="#111" stroke-width="0.9" />
<text x="188.80" y="352.90" font-size="6.9" text-anchor="end" fill="#333" textLength="18.50" lengthAdjust="spacingAndGlyphs" transform="rotate(-45 188.80 352.90)" stroke="#333" stroke-width="0.173">60 min</text>
<line x1="203.30" y1="345.00" x2="203.30" y2="348.20" stroke="#111" stroke-width="0.9" />
<text x="205.30" y="352.90" font-size="6.9" text-anchor="end" fill="#333" textLength="23.50" lengthAdjust="spacingAndGlyphs" transform="rotate(-45 205.30 352.90)" stroke="#333" stroke-width="0.173">Baseline</text>
<line x1="215.70" y1="345.00" x2="215.70" y2="348.20" stroke="#111" stroke-width="0.9" />
<text x="217.70" y="352.90" font-size="6.9" text-anchor="end" fill="#333" textLength="15.30" lengthAdjust="spacingAndGlyphs" transform="rotate(-45 217.70 352.90)" stroke="#333" stroke-width="0.173">8 min</text>
<line x1="228.00" y1="345.00" x2="228.00" y2="348.20" stroke="#111" stroke-width="0.9" />
<text x="230.00" y="352.90" font-size="6.9" text-anchor="end" fill="#333" textLength="18.50" lengthAdjust="spacingAndGlyphs" transform="rotate(-45 230.00 352.90)" stroke="#333" stroke-width="0.173">30 min</text>
<line x1="240.80" y1="345.00" x2="240.80" y2="348.20" stroke="#111" stroke-width="0.9" />
<text x="242.80" y="352.90" font-size="6.9" text-anchor="end" fill="#333" textLength="18.50" lengthAdjust="spacingAndGlyphs" transform="rotate(-45 242.80 352.90)" stroke="#333" stroke-width="0.173">60 min</text>
<text x="60.30" y="334.60" font-size="6.6" text-anchor="middle" fill="#333" textLength="27.30" lengthAdjust="spacingAndGlyphs" stroke="#333" stroke-width="0.165">Negative</text>
<text x="60.30" y="342.60" font-size="6.6" text-anchor="middle" fill="#333" textLength="22.00" lengthAdjust="spacingAndGlyphs" stroke="#333" stroke-width="0.165">control</text>
<text x="114.00" y="334.60" font-size="6.6" text-anchor="middle" fill="#333" textLength="15.50" lengthAdjust="spacingAndGlyphs" stroke="#333" stroke-width="0.165">Sham</text>
<text x="113.70" y="342.60" font-size="6.6" text-anchor="middle" fill="#333" textLength="30.00" lengthAdjust="spacingAndGlyphs" stroke="#333" stroke-width="0.165">treatment</text>
<text x="167.70" y="337.80" font-size="6.6" text-anchor="middle" fill="#333" textLength="36.50" lengthAdjust="spacingAndGlyphs" stroke="#333" stroke-width="0.165">Insula 40 Hz</text>
<text x="222.00" y="337.80" font-size="6.6" text-anchor="middle" fill="#333" textLength="36.00" lengthAdjust="spacingAndGlyphs" stroke="#333" stroke-width="0.165">Insula 3 kHz</text>
<text x="13.40" y="288.40" font-size="7.4" text-anchor="middle" fill="#333" textLength="34.00" lengthAdjust="spacingAndGlyphs" transform="rotate(-90 13.40 288.40)" stroke="#333" stroke-width="0.089">Δ hPWL (s)</text>
<text x="269.30" y="148.90" font-size="11.6" fill="#111" textLength="7.80" lengthAdjust="spacingAndGlyphs" font-weight="bold">C</text>
<text x="320.00" y="158.70" font-size="8" fill="#333" textLength="168.70" lengthAdjust="spacingAndGlyphs" stroke="#333" stroke-width="0.096">Single-session tFUS at Thalamus in female</text>
<text x="370.00" y="168.70" font-size="8" fill="#333" textLength="69.00" lengthAdjust="spacingAndGlyphs" stroke="#333" stroke-width="0.096">HbSS-BERK mice</text>
<path d="M307.10 208.40 L307.10 206.40 L450.00 206.40 L450.00 208.40" fill="none" stroke="#3a3a3a" stroke-width="1.05"/>
<text x="378.55" y="203.70" font-size="5.2" text-anchor="middle" fill="#3a3a3a" textLength="3.45" lengthAdjust="spacingAndGlyphs" font-style="italic" stroke="#3a3a3a" stroke-width="0.130">#</text>
<path d="M371.20 218.20 L371.20 216.20 L426.50 216.20 L426.50 218.20" fill="none" stroke="#3a3a3a" stroke-width="1.05"/>
<text x="398.85" y="213.50" font-size="5.2" text-anchor="middle" fill="#3a3a3a" textLength="3.45" lengthAdjust="spacingAndGlyphs" font-style="italic" stroke="#3a3a3a" stroke-width="0.130">#</text>
<line x1="306.90" y1="231.10" x2="343.20" y2="231.10" stroke="#3a3a3a" stroke-width="1.05" />
<text x="325.05" y="227.60" font-size="6.0" text-anchor="middle" fill="#3a3a3a" textLength="6.70" lengthAdjust="spacingAndGlyphs" stroke="#3a3a3a" stroke-width="0.150">ns</text>
<line x1="359.00" y1="230.80" x2="395.40" y2="230.80" stroke="#3a3a3a" stroke-width="1.05" />
<text x="377.20" y="227.30" font-size="6.0" text-anchor="middle" fill="#3a3a3a" textLength="6.70" lengthAdjust="spacingAndGlyphs" stroke="#3a3a3a" stroke-width="0.150">ns</text>
<line x1="412.70" y1="230.80" x2="447.30" y2="230.80" stroke="#3a3a3a" stroke-width="1.05" />
<text x="430.00" y="227.30" font-size="6.0" text-anchor="middle" fill="#3a3a3a" textLength="6.70" lengthAdjust="spacingAndGlyphs" stroke="#3a3a3a" stroke-width="0.150">ns</text>
<line x1="467.30" y1="230.80" x2="503.30" y2="230.80" stroke="#3a3a3a" stroke-width="1.05" />
<text x="485.30" y="227.30" font-size="6.0" text-anchor="middle" fill="#3a3a3a" textLength="6.70" lengthAdjust="spacingAndGlyphs" stroke="#3a3a3a" stroke-width="0.150">ns</text>
<line x1="350.40" y1="236.50" x2="350.40" y2="345.00" stroke="#333" stroke-width="0.8" stroke-dasharray="0.8 1.3"/>
<line x1="404.40" y1="236.50" x2="404.40" y2="345.00" stroke="#333" stroke-width="0.8" stroke-dasharray="0.8 1.3"/>
<line x1="457.90" y1="236.50" x2="457.90" y2="345.00" stroke="#333" stroke-width="0.8" stroke-dasharray="0.8 1.3"/>
<line x1="304.60" y1="300.40" x2="304.60" y2="290.80" stroke="#3a3a3a" stroke-width="0.7" />
<line x1="303.60" y1="290.80" x2="305.60" y2="290.80" stroke="#3a3a3a" stroke-width="0.6" />
<line x1="303.60" y1="300.40" x2="305.60" y2="300.40" stroke="#3a3a3a" stroke-width="0.6" />
<circle cx="304.60" cy="290.00" r="1.15" fill="#e2e2e2" stroke="#555" stroke-width="0.6"/>
<circle cx="301.40" cy="292.80" r="1.15" fill="#e2e2e2" stroke="#555" stroke-width="0.6"/>
<circle cx="304.60" cy="293.50" r="1.15" fill="#e2e2e2" stroke="#555" stroke-width="0.6"/>
<circle cx="301.40" cy="297.60" r="1.15" fill="#e2e2e2" stroke="#555" stroke-width="0.6"/>
<circle cx="304.60" cy="298.00" r="1.15" fill="#e2e2e2" stroke="#555" stroke-width="0.6"/>
<circle cx="307.80" cy="297.60" r="1.15" fill="#e2e2e2" stroke="#555" stroke-width="0.6"/>
<circle cx="304.60" cy="302.50" r="1.15" fill="#e2e2e2" stroke="#555" stroke-width="0.6"/>
<circle cx="315.80" cy="291.20" r="1.15" fill="#e2e2e2" stroke="#555" stroke-width="0.6"/>
<circle cx="318.50" cy="289.00" r="1.15" fill="#e2e2e2" stroke="#555" stroke-width="0.6"/>
<circle cx="313.70" cy="295.50" r="1.15" fill="#e2e2e2" stroke="#555" stroke-width="0.6"/>
<circle cx="314.20" cy="298.70" r="1.25" fill="#8c8c8c" stroke="#505050" stroke-width="0.5"/>
<circle cx="318.50" cy="297.50" r="1.15" fill="#e2e2e2" stroke="#555" stroke-width="0.6"/>
<circle cx="320.20" cy="298.00" r="1.15" fill="#e2e2e2" stroke="#555" stroke-width="0.6"/>
<line x1="329.50" y1="302.00" x2="329.50" y2="288.56" stroke="#3a3a3a" stroke-width="0.7" />
<line x1="328.50" y1="288.56" x2="330.50" y2="288.56" stroke="#3a3a3a" stroke-width="0.6" />
<line x1="328.50" y1="302.00" x2="330.50" y2="302.00" stroke="#3a3a3a" stroke-width="0.6" />
<circle cx="329.50" cy="283.10" r="1.25" fill="#8c8c8c" stroke="#505050" stroke-width="0.5"/>
<circle cx="329.50" cy="289.00" r="1.25" fill="#8c8c8c" stroke="#505050" stroke-width="0.5"/>
<circle cx="328.50" cy="291.70" r="1.15" fill="#e2e2e2" stroke="#555" stroke-width="0.6"/>
<circle cx="329.50" cy="295.50" r="1.15" fill="#e2e2e2" stroke="#555" stroke-width="0.6"/>
<circle cx="326.00" cy="295.50" r="1.15" fill="#e2e2e2" stroke="#555" stroke-width="0.6"/>
<circle cx="329.50" cy="297.50" r="1.15" fill="#e2e2e2" stroke="#555" stroke-width="0.6"/>
<circle cx="329.50" cy="302.50" r="1.25" fill="#8c8c8c" stroke="#505050" stroke-width="0.5"/>
<line x1="342.20" y1="299.44" x2="342.20" y2="294.32" stroke="#3a3a3a" stroke-width="0.7" />
<line x1="341.20" y1="294.32" x2="343.20" y2="294.32" stroke="#3a3a3a" stroke-width="0.6" />
<line x1="341.20" y1="299.44" x2="343.20" y2="299.44" stroke="#3a3a3a" stroke-width="0.6" />
<circle cx="339.20" cy="295.50" r="1.3" fill="#2e2e2e" stroke="#1a1a1a" stroke-width="0.3"/>
<circle cx="341.00" cy="294.30" r="1.3" fill="#2e2e2e" stroke="#1a1a1a" stroke-width="0.3"/>
<circle cx="342.70" cy="296.00" r="1.3" fill="#2e2e2e" stroke="#1a1a1a" stroke-width="0.3"/>
<circle cx="344.40" cy="297.30" r="1.3" fill="#2e2e2e" stroke="#1a1a1a" stroke-width="0.3"/>
<circle cx="345.80" cy="298.20" r="1.3" fill="#2e2e2e" stroke="#1a1a1a" stroke-width="0.3"/>
<circle cx="342.20" cy="303.00" r="1.25" fill="#8c8c8c" stroke="#505050" stroke-width="0.5"/>
<circle cx="342.20" cy="306.20" r="1.25" fill="#8c8c8c" stroke="#505050" stroke-width="0.5"/>
<rect x="338.20" y="295.60" width="8.00" height="1.92" fill="#b8772f" />
<circle cx="354.90" cy="294.20" r="1.15" fill="#e2e2e2" stroke="#555" stroke-width="0.6"/>
<circle cx="357.60" cy="293.70" r="1.15" fill="#e2e2e2" stroke="#555" stroke-width="0.6"/>
<circle cx="360.80" cy="292.60" r="1.15" fill="#e2e2e2" stroke="#555" stroke-width="0.6"/>
<circle cx="361.90" cy="292.00" r="1.15" fill="#e2e2e2" stroke="#555" stroke-width="0.6"/>
<circle cx="357.60" cy="299.00" r="1.15" fill="#e2e2e2" stroke="#555" stroke-width="0.6"/>
<circle cx="359.70" cy="299.30" r="1.15" fill="#e2e2e2" stroke="#555" stroke-width="0.6"/>
<circle cx="371.20" cy="296.50" r="1.25" fill="#8c8c8c" stroke="#505050" stroke-width="0.5"/>
<circle cx="373.20" cy="298.50" r="1.25" fill="#8c8c8c" stroke="#505050" stroke-width="0.5"/>
<circle cx="371.20" cy="304.50" r="1.25" fill="#8c8c8c" stroke="#505050" stroke-width="0.5"/>
<rect x="367.20" y="295.60" width="8.00" height="1.60" fill="#3d4f55" />
<line x1="383.60" y1="302.96" x2="383.60" y2="294.96" stroke="#3a3a3a" stroke-width="0.7" />
<line x1="382.60" y1="294.96" x2="384.60" y2="294.96" stroke="#3a3a3a" stroke-width="0.6" />
<line x1="382.60" y1="302.96" x2="384.60" y2="302.96" stroke="#3a3a3a" stroke-width="0.6" />
<circle cx="383.60" cy="287.20" r="1.25" fill="#8c8c8c" stroke="#505050" stroke-width="0.5"/>
<circle cx="383.60" cy="309.30" r="1.25" fill="#8c8c8c" stroke="#505050" stroke-width="0.5"/>
<circle cx="383.60" cy="314.70" r="1.25" fill="#8c8c8c" stroke="#505050" stroke-width="0.5"/>
<circle cx="381.20" cy="296.50" r="1.25" fill="#8c8c8c" stroke="#505050" stroke-width="0.5"/>
<circle cx="386.00" cy="296.50" r="1.25" fill="#8c8c8c" stroke="#505050" stroke-width="0.5"/>
<rect x="379.60" y="295.60" width="8.00" height="2.88" fill="#4aa9d9" />
<line x1="395.90" y1="294.64" x2="395.90" y2="286.64" stroke="#3a3a3a" stroke-width="0.7" />
<line x1="394.90" y1="286.64" x2="396.90" y2="286.64" stroke="#3a3a3a" stroke-width="0.6" />
<line x1="394.90" y1="294.64" x2="396.90" y2="294.64" stroke="#3a3a3a" stroke-width="0.6" />
<circle cx="395.40" cy="254.20" r="1.25" fill="#8c8c8c" stroke="#505050" stroke-width="0.5"/>
<circle cx="395.40" cy="287.20" r="1.25" fill="#8c8c8c" stroke="#505050" stroke-width="0.5"/>
<circle cx="396.70" cy="287.80" r="1.25" fill="#8c8c8c" stroke="#505050" stroke-width="0.5"/>
<circle cx="396.00" cy="302.30" r="1.25" fill="#8c8c8c" stroke="#505050" stroke-width="0.5"/>
<circle cx="396.00" cy="309.30" r="1.25" fill="#8c8c8c" stroke="#505050" stroke-width="0.5"/>
<rect x="391.90" y="291.44" width="8.00" height="4.16" fill="#4aa9d9" />
<circle cx="410.10" cy="290.50" r="1.15" fill="#e2e2e2" stroke="#555" stroke-width="0.6"/>
<circle cx="412.60" cy="290.50" r="1.15" fill="#e2e2e2" stroke="#555" stroke-width="0.6"/>
<circle cx="415.10" cy="290.50" r="1.15" fill="#e2e2e2" stroke="#555" stroke-width="0.6"/>
<circle cx="410.10" cy="292.80" r="1.15" fill="#e2e2e2" stroke="#555" stroke-width="0.6"/>
<circle cx="412.60" cy="292.80" r="1.15" fill="#e2e2e2" stroke="#555" stroke-width="0.6"/>
<circle cx="415.10" cy="292.80" r="1.15" fill="#e2e2e2" stroke="#555" stroke-width="0.6"/>
<circle cx="412.70" cy="302.10" r="1.25" fill="#8c8c8c" stroke="#505050" stroke-width="0.5"/>
<rect x="408.60" y="292.08" width="8.00" height="3.52" fill="#c8102e" />
<line x1="424.90" y1="283.76" x2="424.90" y2="270.32" stroke="#3a3a3a" stroke-width="0.7" />
<line x1="423.90" y1="270.32" x2="425.90" y2="270.32" stroke="#3a3a3a" stroke-width="0.6" />
<line x1="423.90" y1="283.76" x2="425.90" y2="283.76" stroke="#3a3a3a" stroke-width="0.6" />
<circle cx="425.40" cy="242.90" r="1.25" fill="#8c8c8c" stroke="#505050" stroke-width="0.5"/>
<circle cx="425.40" cy="250.60" r="1.25" fill="#8c8c8c" stroke="#505050" stroke-width="0.5"/>
<circle cx="425.40" cy="257.70" r="1.25" fill="#8c8c8c" stroke="#505050" stroke-width="0.5"/>
<circle cx="425.40" cy="267.50" r="1.15" fill="#e2e2e2" stroke="#555" stroke-width="0.6"/>
<circle cx="422.90" cy="297.80" r="1.15" fill="#e2e2e2" stroke="#555" stroke-width="0.6"/>
<circle cx="426.40" cy="297.20" r="1.15" fill="#e2e2e2" stroke="#555" stroke-width="0.6"/>
<rect x="420.90" y="277.04" width="8.00" height="18.56" fill="#c8102e" />
<circle cx="424.90" cy="282.00" r="1.3" fill="#000"/>
<circle cx="424.90" cy="282.00" r="1.3" fill="#c8102e" opacity="0.55"/>
<circle cx="423.40" cy="287.00" r="1.3" fill="#000"/>
<circle cx="423.40" cy="287.00" r="1.3" fill="#c8102e" opacity="0.55"/>
<circle cx="426.40" cy="290.00" r="1.3" fill="#000"/>
<circle cx="426.40" cy="290.00" r="1.3" fill="#c8102e" opacity="0.55"/>
<line x1="437.50" y1="281.20" x2="437.50" y2="268.40" stroke="#3a3a3a" stroke-width="0.7" />
<line x1="436.50" y1="268.40" x2="438.50" y2="268.40" stroke="#3a3a3a" stroke-width="0.6" />
<line x1="436.50" y1="281.20" x2="438.50" y2="281.20" stroke="#3a3a3a" stroke-width="0.6" />
<circle cx="437.50" cy="240.00" r="1.15" fill="#e2e2e2" stroke="#555" stroke-width="0.6"/>
<circle cx="437.50" cy="244.40" r="1.25" fill="#8c8c8c" stroke="#505050" stroke-width="0.5"/>
<circle cx="437.50" cy="253.50" r="1.25" fill="#8c8c8c" stroke="#505050" stroke-width="0.5"/>
<circle cx="437.50" cy="265.00" r="1.25" fill="#8c8c8c" stroke="#505050" stroke-width="0.5"/>
<circle cx="437.50" cy="300.70" r="1.15" fill="#e2e2e2" stroke="#555" stroke-width="0.6"/>
<circle cx="437.50" cy="304.60" r="1.25" fill="#8c8c8c" stroke="#505050" stroke-width="0.5"/>
<rect x="433.50" y="276.40" width="8.00" height="19.20" fill="#c8102e" />
<circle cx="437.50" cy="280.00" r="1.3" fill="#000"/>
<circle cx="437.50" cy="280.00" r="1.3" fill="#c8102e" opacity="0.55"/>
<circle cx="436.00" cy="285.00" r="1.3" fill="#000"/>
<circle cx="436.00" cy="285.00" r="1.3" fill="#c8102e" opacity="0.55"/>
<circle cx="439.00" cy="289.00" r="1.3" fill="#000"/>
<circle cx="439.00" cy="289.00" r="1.3" fill="#c8102e" opacity="0.55"/>
<circle cx="437.50" cy="292.00" r="1.3" fill="#000"/>
<circle cx="437.50" cy="292.00" r="1.3" fill="#c8102e" opacity="0.55"/>
<line x1="450.00" y1="286.64" x2="450.00" y2="280.24" stroke="#3a3a3a" stroke-width="0.7" />
<line x1="449.00" y1="280.24" x2="451.00" y2="280.24" stroke="#3a3a3a" stroke-width="0.6" />
<line x1="449.00" y1="286.64" x2="451.00" y2="286.64" stroke="#3a3a3a" stroke-width="0.6" />
<circle cx="450.20" cy="258.80" r="1.15" fill="#e2e2e2" stroke="#555" stroke-width="0.6"/>
<circle cx="448.00" cy="272.20" r="1.25" fill="#8c8c8c" stroke="#505050" stroke-width="0.5"/>
<circle cx="451.60" cy="271.80" r="1.15" fill="#e2e2e2" stroke="#555" stroke-width="0.6"/>
<circle cx="449.50" cy="284.00" r="1.15" fill="#e2e2e2" stroke="#555" stroke-width="0.6"/>
<circle cx="451.00" cy="284.50" r="1.15" fill="#e2e2e2" stroke="#555" stroke-width="0.6"/>
<circle cx="449.90" cy="298.50" r="1.15" fill="#e2e2e2" stroke="#555" stroke-width="0.6"/>
<rect x="446.00" y="284.08" width="8.00" height="11.52" fill="#c8102e" />
<circle cx="448.50" cy="287.00" r="1.3" fill="#000"/>
<circle cx="448.50" cy="287.00" r="1.3" fill="#c8102e" opacity="0.55"/>
<circle cx="451.50" cy="290.00" r="1.3" fill="#000"/>
<circle cx="451.50" cy="290.00" r="1.3" fill="#c8102e" opacity="0.55"/>
<circle cx="464.20" cy="296.00" r="1.15" fill="#e2e2e2" stroke="#555" stroke-width="0.6"/>
<circle cx="466.20" cy="291.80" r="1.15" fill="#e2e2e2" stroke="#555" stroke-width="0.6"/>
<circle cx="468.20" cy="289.70" r="1.15" fill="#e2e2e2" stroke="#555" stroke-width="0.6"/>
<circle cx="465.20" cy="297.50" r="1.15" fill="#e2e2e2" stroke="#555" stroke-width="0.6"/>
<circle cx="466.10" cy="301.20" r="1.25" fill="#8c8c8c" stroke="#505050" stroke-width="0.5"/>
<circle cx="466.10" cy="306.30" r="1.25" fill="#8c8c8c" stroke="#505050" stroke-width="0.5"/>
<line x1="479.00" y1="292.40" x2="479.00" y2="283.76" stroke="#3a3a3a" stroke-width="0.7" />
<line x1="478.00" y1="283.76" x2="480.00" y2="283.76" stroke="#3a3a3a" stroke-width="0.6" />
<line x1="478.00" y1="292.40" x2="480.00" y2="292.40" stroke="#3a3a3a" stroke-width="0.6" />
<circle cx="478.80" cy="257.20" r="1.25" fill="#8c8c8c" stroke="#505050" stroke-width="0.5"/>
<circle cx="478.80" cy="268.00" r="1.25" fill="#8c8c8c" stroke="#505050" stroke-width="0.5"/>
<circle cx="478.80" cy="283.90" r="1.3" fill="#2e2e2e" stroke="#1a1a1a" stroke-width="0.3"/>
<circle cx="477.80" cy="287.50" r="1.15" fill="#e2e2e2" stroke="#555" stroke-width="0.6"/>
<circle cx="481.20" cy="288.20" r="1.15" fill="#e2e2e2" stroke="#555" stroke-width="0.6"/>
<circle cx="478.80" cy="297.70" r="1.25" fill="#8c8c8c" stroke="#505050" stroke-width="0.5"/>
<circle cx="478.80" cy="300.50" r="1.25" fill="#8c8c8c" stroke="#505050" stroke-width="0.5"/>
<circle cx="478.80" cy="327.20" r="1.25" fill="#8c8c8c" stroke="#505050" stroke-width="0.5"/>
<rect x="475.00" y="289.52" width="8.00" height="6.08" fill="#b7cf91" />
<line x1="491.40" y1="297.20" x2="491.40" y2="289.52" stroke="#3a3a3a" stroke-width="0.7" />
<line x1="490.40" y1="289.52" x2="492.40" y2="289.52" stroke="#3a3a3a" stroke-width="0.6" />
<line x1="490.40" y1="297.20" x2="492.40" y2="297.20" stroke="#3a3a3a" stroke-width="0.6" />
<circle cx="489.20" cy="278.90" r="1.15" fill="#e2e2e2" stroke="#555" stroke-width="0.6"/>
<circle cx="493.80" cy="278.10" r="1.15" fill="#e2e2e2" stroke="#555" stroke-width="0.6"/>
<circle cx="489.20" cy="283.90" r="1.25" fill="#8c8c8c" stroke="#505050" stroke-width="0.5"/>
<circle cx="493.80" cy="283.90" r="1.25" fill="#8c8c8c" stroke="#505050" stroke-width="0.5"/>
<circle cx="491.40" cy="297.60" r="1.3" fill="#2e2e2e" stroke="#1a1a1a" stroke-width="0.3"/>
<circle cx="491.40" cy="304.10" r="1.25" fill="#8c8c8c" stroke="#505050" stroke-width="0.5"/>
<circle cx="489.20" cy="313.10" r="1.15" fill="#e2e2e2" stroke="#555" stroke-width="0.6"/>
<circle cx="493.80" cy="312.30" r="1.15" fill="#e2e2e2" stroke="#555" stroke-width="0.6"/>
<rect x="487.40" y="294.96" width="8.00" height="0.64" fill="#b7cf91" />
<line x1="503.80" y1="294.96" x2="503.80" y2="288.56" stroke="#3a3a3a" stroke-width="0.7" />
<line x1="502.80" y1="288.56" x2="504.80" y2="288.56" stroke="#3a3a3a" stroke-width="0.6" />
<line x1="502.80" y1="294.96" x2="504.80" y2="294.96" stroke="#3a3a3a" stroke-width="0.6" />
<circle cx="502.90" cy="283.20" r="1.15" fill="#e2e2e2" stroke="#555" stroke-width="0.6"/>
<circle cx="505.00" cy="283.20" r="1.15" fill="#e2e2e2" stroke="#555" stroke-width="0.6"/>
<circle cx="501.50" cy="288.20" r="1.15" fill="#e2e2e2" stroke="#555" stroke-width="0.6"/>
<circle cx="503.80" cy="287.50" r="1.15" fill="#e2e2e2" stroke="#555" stroke-width="0.6"/>
<circle cx="505.60" cy="288.20" r="1.15" fill="#e2e2e2" stroke="#555" stroke-width="0.6"/>
<circle cx="503.60" cy="300.50" r="1.25" fill="#8c8c8c" stroke="#505050" stroke-width="0.5"/>
<circle cx="503.60" cy="304.10" r="1.25" fill="#8c8c8c" stroke="#505050" stroke-width="0.5"/>
<circle cx="503.60" cy="310.30" r="1.25" fill="#8c8c8c" stroke="#505050" stroke-width="0.5"/>
<rect x="499.80" y="293.04" width="8.00" height="2.56" fill="#b7cf91" />
<line x1="296.60" y1="295.60" x2="512.00" y2="295.60" stroke="#1a1a1a" stroke-width="1.1" />
<line x1="296.60" y1="237.10" x2="296.60" y2="345.50" stroke="#111" stroke-width="1.2" />
<line x1="296.00" y1="345.00" x2="512.00" y2="345.00" stroke="#111" stroke-width="1.2" />
<line x1="293.80" y1="244.40" x2="296.60" y2="244.40" stroke="#111" stroke-width="0.9" />
<text x="289.85" y="246.75" font-size="6.6" text-anchor="end" fill="#333" stroke="#333" stroke-width="0.165">16</text>
<line x1="293.80" y1="257.20" x2="296.60" y2="257.20" stroke="#111" stroke-width="0.9" />
<text x="289.85" y="259.55" font-size="6.6" text-anchor="end" fill="#333" stroke="#333" stroke-width="0.165">12</text>
<line x1="293.80" y1="270.00" x2="296.60" y2="270.00" stroke="#111" stroke-width="0.9" />
<text x="289.85" y="272.35" font-size="6.6" text-anchor="end" fill="#333" stroke="#333" stroke-width="0.165">8</text>
<line x1="293.80" y1="282.80" x2="296.60" y2="282.80" stroke="#111" stroke-width="0.9" />
<text x="289.85" y="285.15" font-size="6.6" text-anchor="end" fill="#333" stroke="#333" stroke-width="0.165">4</text>
<line x1="293.80" y1="295.60" x2="296.60" y2="295.60" stroke="#111" stroke-width="0.9" />
<text x="289.85" y="297.95" font-size="6.6" text-anchor="end" fill="#333" stroke="#333" stroke-width="0.165">0</text>
<line x1="293.80" y1="308.40" x2="296.60" y2="308.40" stroke="#111" stroke-width="0.9" />
<text x="289.85" y="310.75" font-size="6.6" text-anchor="end" fill="#333" stroke="#333" stroke-width="0.165">−4</text>
<line x1="293.80" y1="321.20" x2="296.60" y2="321.20" stroke="#111" stroke-width="0.9" />
<text x="289.85" y="323.55" font-size="6.6" text-anchor="end" fill="#333" stroke="#333" stroke-width="0.165">−8</text>
<line x1="293.80" y1="334.00" x2="296.60" y2="334.00" stroke="#111" stroke-width="0.9" />
<text x="289.85" y="341.05" font-size="6.6" text-anchor="end" fill="#333" stroke="#333" stroke-width="0.165">−12</text>
<line x1="304.60" y1="345.00" x2="304.60" y2="348.20" stroke="#111" stroke-width="0.9" />
<text x="306.60" y="352.90" font-size="6.9" text-anchor="end" fill="#333" textLength="23.50" lengthAdjust="spacingAndGlyphs" transform="rotate(-45 306.60 352.90)" stroke="#333" stroke-width="0.173">Baseline</text>
<line x1="316.90" y1="345.00" x2="316.90" y2="348.20" stroke="#111" stroke-width="0.9" />
<text x="318.90" y="352.90" font-size="6.9" text-anchor="end" fill="#333" textLength="15.30" lengthAdjust="spacingAndGlyphs" transform="rotate(-45 318.90 352.90)" stroke="#333" stroke-width="0.173">8 min</text>
<line x1="329.50" y1="345.00" x2="329.50" y2="348.20" stroke="#111" stroke-width="0.9" />
<text x="331.50" y="352.90" font-size="6.9" text-anchor="end" fill="#333" textLength="18.50" lengthAdjust="spacingAndGlyphs" transform="rotate(-45 331.50 352.90)" stroke="#333" stroke-width="0.173">30 min</text>
<line x1="342.20" y1="345.00" x2="342.20" y2="348.20" stroke="#111" stroke-width="0.9" />
<text x="344.20" y="352.90" font-size="6.9" text-anchor="end" fill="#333" textLength="18.50" lengthAdjust="spacingAndGlyphs" transform="rotate(-45 344.20 352.90)" stroke="#333" stroke-width="0.173">60 min</text>
<line x1="358.50" y1="345.00" x2="358.50" y2="348.20" stroke="#111" stroke-width="0.9" />
<text x="360.50" y="352.90" font-size="6.9" text-anchor="end" fill="#333" textLength="23.50" lengthAdjust="spacingAndGlyphs" transform="rotate(-45 360.50 352.90)" stroke="#333" stroke-width="0.173">Baseline</text>
<line x1="371.20" y1="345.00" x2="371.20" y2="348.20" stroke="#111" stroke-width="0.9" />
<text x="373.20" y="352.90" font-size="6.9" text-anchor="end" fill="#333" textLength="15.30" lengthAdjust="spacingAndGlyphs" transform="rotate(-45 373.20 352.90)" stroke="#333" stroke-width="0.173">8 min</text>
<line x1="383.60" y1="345.00" x2="383.60" y2="348.20" stroke="#111" stroke-width="0.9" />
<text x="385.60" y="352.90" font-size="6.9" text-anchor="end" fill="#333" textLength="18.50" lengthAdjust="spacingAndGlyphs" transform="rotate(-45 385.60 352.90)" stroke="#333" stroke-width="0.173">30 min</text>
<line x1="395.90" y1="345.00" x2="395.90" y2="348.20" stroke="#111" stroke-width="0.9" />
<text x="397.90" y="352.90" font-size="6.9" text-anchor="end" fill="#333" textLength="18.50" lengthAdjust="spacingAndGlyphs" transform="rotate(-45 397.90 352.90)" stroke="#333" stroke-width="0.173">60 min</text>
<line x1="412.30" y1="345.00" x2="412.30" y2="348.20" stroke="#111" stroke-width="0.9" />
<text x="414.30" y="352.90" font-size="6.9" text-anchor="end" fill="#333" textLength="23.50" lengthAdjust="spacingAndGlyphs" transform="rotate(-45 414.30 352.90)" stroke="#333" stroke-width="0.173">Baseline</text>
<line x1="424.80" y1="345.00" x2="424.80" y2="348.20" stroke="#111" stroke-width="0.9" />
<text x="426.80" y="352.90" font-size="6.9" text-anchor="end" fill="#333" textLength="15.30" lengthAdjust="spacingAndGlyphs" transform="rotate(-45 426.80 352.90)" stroke="#333" stroke-width="0.173">8 min</text>
<line x1="437.30" y1="345.00" x2="437.30" y2="348.20" stroke="#111" stroke-width="0.9" />
<text x="439.30" y="352.90" font-size="6.9" text-anchor="end" fill="#333" textLength="18.50" lengthAdjust="spacingAndGlyphs" transform="rotate(-45 439.30 352.90)" stroke="#333" stroke-width="0.173">30 min</text>
<line x1="449.80" y1="345.00" x2="449.80" y2="348.20" stroke="#111" stroke-width="0.9" />
<text x="451.80" y="352.90" font-size="6.9" text-anchor="end" fill="#333" textLength="18.50" lengthAdjust="spacingAndGlyphs" transform="rotate(-45 451.80 352.90)" stroke="#333" stroke-width="0.173">60 min</text>
<line x1="466.20" y1="345.00" x2="466.20" y2="348.20" stroke="#111" stroke-width="0.9" />
<text x="468.20" y="352.90" font-size="6.9" text-anchor="end" fill="#333" textLength="23.50" lengthAdjust="spacingAndGlyphs" transform="rotate(-45 468.20 352.90)" stroke="#333" stroke-width="0.173">Baseline</text>
<line x1="478.70" y1="345.00" x2="478.70" y2="348.20" stroke="#111" stroke-width="0.9" />
<text x="480.70" y="352.90" font-size="6.9" text-anchor="end" fill="#333" textLength="15.30" lengthAdjust="spacingAndGlyphs" transform="rotate(-45 480.70 352.90)" stroke="#333" stroke-width="0.173">8 min</text>
<line x1="491.50" y1="345.00" x2="491.50" y2="348.20" stroke="#111" stroke-width="0.9" />
<text x="493.50" y="352.90" font-size="6.9" text-anchor="end" fill="#333" textLength="18.50" lengthAdjust="spacingAndGlyphs" transform="rotate(-45 493.50 352.90)" stroke="#333" stroke-width="0.173">30 min</text>
<line x1="503.70" y1="345.00" x2="503.70" y2="348.20" stroke="#111" stroke-width="0.9" />
<text x="505.70" y="352.90" font-size="6.9" text-anchor="end" fill="#333" textLength="18.50" lengthAdjust="spacingAndGlyphs" transform="rotate(-45 505.70 352.90)" stroke="#333" stroke-width="0.173">60 min</text>
<text x="323.30" y="334.60" font-size="6.6" text-anchor="middle" fill="#333" textLength="27.30" lengthAdjust="spacingAndGlyphs" stroke="#333" stroke-width="0.165">Negative</text>
<text x="323.30" y="342.60" font-size="6.6" text-anchor="middle" fill="#333" textLength="22.00" lengthAdjust="spacingAndGlyphs" stroke="#333" stroke-width="0.165">control</text>
<text x="377.20" y="334.60" font-size="6.6" text-anchor="middle" fill="#333" textLength="15.50" lengthAdjust="spacingAndGlyphs" stroke="#333" stroke-width="0.165">Sham</text>
<text x="377.00" y="342.60" font-size="6.6" text-anchor="middle" fill="#333" textLength="30.00" lengthAdjust="spacingAndGlyphs" stroke="#333" stroke-width="0.165">treatment</text>
<text x="431.00" y="338.00" font-size="6.6" text-anchor="middle" fill="#333" textLength="45.00" lengthAdjust="spacingAndGlyphs" stroke="#333" stroke-width="0.165">Thalamus 40 Hz</text>
<text x="485.40" y="338.00" font-size="6.6" text-anchor="middle" fill="#333" textLength="46.80" lengthAdjust="spacingAndGlyphs" stroke="#333" stroke-width="0.165">Thalamus 3 kHz</text>
<text x="274.40" y="287.30" font-size="7.4" text-anchor="middle" fill="#333" textLength="34.00" lengthAdjust="spacingAndGlyphs" transform="rotate(-90 274.40 287.30)" stroke="#333" stroke-width="0.089">Δ hPWL (s)</text>
<text x="6.00" y="396.50" font-size="11.6" fill="#111" textLength="8.40" lengthAdjust="spacingAndGlyphs" font-weight="bold">D</text>
<text x="20.80" y="409.20" font-size="9.3" textLength="296.90" lengthAdjust="spacingAndGlyphs" stroke="#2a2a2a" stroke-width="0.112">Experimental design for the multi-session treatment with behavioral study</text>
<text x="25.40" y="441.10" font-size="6.1" textLength="188.60" lengthAdjust="spacingAndGlyphs" stroke="#2a2a2a" stroke-width="0.152">Hot plate test with inter-experimental time interval of 6-7 days</text>
<text x="25.40" y="513.60" font-size="6.1" textLength="167.50" lengthAdjust="spacingAndGlyphs" stroke="#2a2a2a" stroke-width="0.152">Multi-session treatment with 1 hour per day for 14 days</text>
<rect x="20.00" y="472.00" width="223.50" height="6.20" fill="#a3a3a3" />
<text x="47.50" y="476.50" font-size="3.4" fill="#303030" textLength="9.50" lengthAdjust="spacingAndGlyphs" font-style="italic" stroke="#303030" stroke-width="0.085">Day 0</text>
<text x="64.00" y="476.50" font-size="3.4" fill="#303030" textLength="9.50" lengthAdjust="spacingAndGlyphs" font-style="italic" stroke="#303030" stroke-width="0.085">Day 1</text>
<text x="78.80" y="476.50" font-size="3.4" fill="#303030" textLength="9.50" lengthAdjust="spacingAndGlyphs" font-style="italic" stroke="#303030" stroke-width="0.085">Day 2</text>
<text x="92.30" y="476.50" font-size="3.4" fill="#303030" textLength="9.50" lengthAdjust="spacingAndGlyphs" font-style="italic" stroke="#303030" stroke-width="0.085">Day 3</text>
<text x="113.00" y="476.50" font-size="3.4" fill="#303030" textLength="3.00" lengthAdjust="spacingAndGlyphs" font-style="italic" stroke="#303030" stroke-width="0.085">...</text>
<text x="125.40" y="476.50" font-size="3.4" fill="#303030" textLength="9.00" lengthAdjust="spacingAndGlyphs" font-style="italic" stroke="#303030" stroke-width="0.085">Day 6</text>
<text x="139.50" y="476.50" font-size="3.4" fill="#303030" textLength="9.00" lengthAdjust="spacingAndGlyphs" font-style="italic" stroke="#303030" stroke-width="0.085">Day 7</text>
<text x="154.00" y="476.50" font-size="3.4" fill="#303030" textLength="9.50" lengthAdjust="spacingAndGlyphs" font-style="italic" stroke="#303030" stroke-width="0.085">Day 8</text>
<text x="181.00" y="476.50" font-size="3.4" fill="#303030" textLength="3.00" lengthAdjust="spacingAndGlyphs" font-style="italic" stroke="#303030" stroke-width="0.085">...</text>
<text x="196.60" y="476.50" font-size="3.4" fill="#303030" textLength="12.50" lengthAdjust="spacingAndGlyphs" font-style="italic" stroke="#303030" stroke-width="0.085">Day 12</text>
<text x="212.00" y="476.50" font-size="3.4" fill="#303030" textLength="12.50" lengthAdjust="spacingAndGlyphs" font-style="italic" stroke="#303030" stroke-width="0.085">Day 13</text>
<text x="227.00" y="476.50" font-size="3.4" fill="#303030" textLength="11.50" lengthAdjust="spacingAndGlyphs" font-style="italic" stroke="#303030" stroke-width="0.085">Day 14</text>
<line x1="54.50" y1="446.90" x2="54.50" y2="472.50" stroke="#3f679e" stroke-width="1.0" />
<circle cx="54.50" cy="446.90" r="2.15" fill="#1b3560"/>
<line x1="144.50" y1="446.90" x2="144.50" y2="472.50" stroke="#3f679e" stroke-width="1.0" />
<circle cx="144.50" cy="446.90" r="2.15" fill="#1b3560"/>
<line x1="233.50" y1="446.90" x2="233.50" y2="472.50" stroke="#3f679e" stroke-width="1.0" />
<circle cx="233.50" cy="446.90" r="2.15" fill="#1b3560"/>
<line x1="67.50" y1="477.70" x2="67.50" y2="500.50" stroke="#c92443" stroke-width="1.0" />
<circle cx="67.50" cy="500.50" r="2.15" fill="#a00d2b"/>
<line x1="82.50" y1="477.70" x2="82.50" y2="500.50" stroke="#c92443" stroke-width="1.0" />
<circle cx="82.50" cy="500.50" r="2.15" fill="#a00d2b"/>
<line x1="96.50" y1="477.70" x2="96.50" y2="500.50" stroke="#c92443" stroke-width="1.0" />
<circle cx="96.50" cy="500.50" r="2.15" fill="#a00d2b"/>
<line x1="129.50" y1="477.70" x2="129.50" y2="500.50" stroke="#c92443" stroke-width="1.0" />
<circle cx="129.50" cy="500.50" r="2.15" fill="#a00d2b"/>
<line x1="144.50" y1="477.70" x2="144.50" y2="500.50" stroke="#c92443" stroke-width="1.0" />
<circle cx="144.50" cy="500.50" r="2.15" fill="#a00d2b"/>
<line x1="158.50" y1="477.70" x2="158.50" y2="500.50" stroke="#c92443" stroke-width="1.0" />
<circle cx="158.50" cy="500.50" r="2.15" fill="#a00d2b"/>
<line x1="204.50" y1="477.70" x2="204.50" y2="500.50" stroke="#c92443" stroke-width="1.0" />
<circle cx="204.50" cy="500.50" r="2.15" fill="#a00d2b"/>
<line x1="218.50" y1="477.70" x2="218.50" y2="500.50" stroke="#c92443" stroke-width="1.0" />
<circle cx="218.50" cy="500.50" r="2.15" fill="#a00d2b"/>
<line x1="233.50" y1="477.70" x2="233.50" y2="500.50" stroke="#c92443" stroke-width="1.0" />
<circle cx="233.50" cy="500.50" r="2.15" fill="#a00d2b"/>
<text x="114.00" y="491.00" font-size="4" text-anchor="middle" fill="#cfcfcf" stroke="#cfcfcf" stroke-width="0.100">...</text>
<text x="182.00" y="491.00" font-size="4" text-anchor="middle" fill="#cfcfcf" stroke="#cfcfcf" stroke-width="0.100">...</text>
<rect x="28.62" y="445.00" width="12.85" height="15.68" fill="#e9e9e9" stroke="#cdcdcd" stroke-width="0.5" />
<line x1="31.84" y1="445.80" x2="31.84" y2="460.18" stroke="#dedede" stroke-width="0.35" />
<line x1="35.05" y1="445.80" x2="35.05" y2="460.18" stroke="#dedede" stroke-width="0.35" />
<line x1="38.26" y1="445.80" x2="38.26" y2="460.18" stroke="#dedede" stroke-width="0.35" />
<path d="M29.40 453.62 L31.71 453.15 L35.05 460.21 L32.48 460.68 Z" fill="#6d5c53"/>
<path d="M32.48 454.41 L34.41 453.62 L33.51 456.76 Z" fill="#f0d8c8"/>
<rect x="28.62" y="460.68" width="12.85" height="1.52" fill="#5f5f5f" />
<rect x="25.60" y="462.43" width="18.90" height="5.97" fill="#eeeeee" stroke="#d8d8d8" stroke-width="0.4" />
<rect x="27.49" y="464.52" width="6.80" height="2.39" fill="#a4a4a4" />
<rect x="35.81" y="464.52" width="6.80" height="2.39" fill="#a4a4a4" />
<rect x="30.00" y="481.00" width="11.30" height="10.00" fill="#e4e4e4" />
<rect x="31.36" y="481.00" width="1.24" height="10.00" fill="#4a4a4a" />
<rect x="33.84" y="481.00" width="1.24" height="10.00" fill="#4a4a4a" />
<rect x="36.33" y="481.00" width="1.24" height="10.00" fill="#4a4a4a" />
<rect x="38.81" y="481.00" width="1.24" height="10.00" fill="#4a4a4a" />
<path d="M31.13 491.00 L40.17 491.00 L38.47 493.00 L32.83 493.00 Z" fill="#9a9a9a"/>
<path d="M28.41 497.30 Q34.40 491.81 43.39 494.14 Q45.53 500.03 39.11 506.20 Q35.47 504.83 33.33 502.09 Q30.12 500.72 28.41 497.30 Z" fill="#cdbba3" stroke="#b09a80" stroke-width="0.4"/>
<line x1="24.98" y1="496.61" x2="29.26" y2="497.02" stroke="#666" stroke-width="0.8" />
<circle cx="24.98" cy="496.61" r="1.4" fill="#4a4a4a"/>
<rect x="247.00" y="431.40" width="72.40" height="86.10" fill="#fff" stroke="#262626" stroke-width="1.0" />
<line x1="247.00" y1="439.90" x2="319.40" y2="439.90" stroke="#262626" stroke-width="1.0" />
<text x="283.45" y="437.30" font-size="5.8" text-anchor="middle" fill="#333" textLength="48.30" lengthAdjust="spacingAndGlyphs" stroke="#333" stroke-width="0.145">Stimulation session</text>
<line x1="250.00" y1="460.20" x2="316.90" y2="460.20" stroke="#857db9" stroke-width="0.55" />
<rect x="254.50" y="450.90" width="2.80" height="18.60" fill="#aba4db" />
<line x1="255.90" y1="451.40" x2="255.90" y2="469.00" stroke="#8f86c8" stroke-width="0.5" />
<rect x="268.00" y="450.90" width="2.80" height="18.60" fill="#aba4db" />
<line x1="269.40" y1="451.40" x2="269.40" y2="469.00" stroke="#8f86c8" stroke-width="0.5" />
<rect x="282.10" y="450.90" width="2.80" height="18.60" fill="#aba4db" />
<line x1="283.50" y1="451.40" x2="283.50" y2="469.00" stroke="#8f86c8" stroke-width="0.5" />
<rect x="295.60" y="450.90" width="2.80" height="18.60" fill="#aba4db" />
<line x1="297.00" y1="451.40" x2="297.00" y2="469.00" stroke="#8f86c8" stroke-width="0.5" />
<rect x="309.20" y="450.90" width="2.80" height="18.60" fill="#aba4db" />
<line x1="310.60" y1="451.40" x2="310.60" y2="469.00" stroke="#8f86c8" stroke-width="0.5" />
<line x1="250.00" y1="460.20" x2="316.90" y2="460.20" stroke="#7d74b8" stroke-width="0.4" opacity="0.5"/>
<text x="270.54" y="446.53" font-size="2.4699999999999998" text-anchor="middle" fill="#555" textLength="8.55" lengthAdjust="spacingAndGlyphs" stroke="#555" stroke-width="0.062">400 msec</text>
<rect x="268.16" y="448.14" width="2.47" height="1.14" fill="#666" />
<text x="287.21" y="446.53" font-size="2.4699999999999998" text-anchor="middle" fill="#555" textLength="5.22" lengthAdjust="spacingAndGlyphs" stroke="#555" stroke-width="0.062">4 sec</text>
<line x1="283.50" y1="448.71" x2="292.25" y2="448.71" stroke="#666" stroke-width="0.7" />
<path d="M258.90 472.90 L282.07 470.10 L284.93 470.10 L307.00 472.90" fill="none" stroke="#8078b8" stroke-width="0.5"/>
<rect x="258.90" y="472.90" width="48.10" height="20.40" fill="#fff" stroke="#857eb8" stroke-width="0.55" />
<line x1="259.90" y1="485.60" x2="306.00" y2="485.60" stroke="#c9c4e6" stroke-width="0.5" />
<rect x="261.00" y="480.50" width="5.00" height="10.20" fill="#aba4db" />
<line x1="263.50" y1="481.00" x2="263.50" y2="490.20" stroke="#8f86c8" stroke-width="0.5" />
<rect x="275.70" y="480.50" width="5.00" height="10.20" fill="#aba4db" />
<line x1="278.20" y1="481.00" x2="278.20" y2="490.20" stroke="#8f86c8" stroke-width="0.5" />
<rect x="286.70" y="480.50" width="5.00" height="10.20" fill="#aba4db" />
<line x1="289.20" y1="481.00" x2="289.20" y2="490.20" stroke="#8f86c8" stroke-width="0.5" />
<rect x="301.50" y="480.50" width="5.00" height="10.20" fill="#aba4db" />
<line x1="304.00" y1="481.00" x2="304.00" y2="490.20" stroke="#8f86c8" stroke-width="0.5" />
<text x="265.88" y="476.51" font-size="2.28" text-anchor="middle" fill="#555" textLength="5.22" lengthAdjust="spacingAndGlyphs" stroke="#555" stroke-width="0.057">1/PRF</text>
<line x1="261.12" y1="478.41" x2="276.30" y2="478.41" stroke="#666" stroke-width="0.6" />
<text x="293.47" y="476.51" font-size="2.28" text-anchor="middle" fill="#555" textLength="8.07" lengthAdjust="spacingAndGlyphs" stroke="#555" stroke-width="0.057">200 µsec</text>
<rect x="286.82" y="477.84" width="4.75" height="1.14" fill="#777" />
<text x="258.60" y="500.60" font-size="4.7" fill="#333" textLength="20.20" lengthAdjust="spacingAndGlyphs" stroke="#333" stroke-width="0.118">• PRF: 40 Hz</text>
<text x="258.60" y="506.40" font-size="4.7" fill="#333" textLength="45.70" lengthAdjust="spacingAndGlyphs" stroke="#333" stroke-width="0.118">• Total sonication time:</text>
<text x="261.00" y="512.30" font-size="4.7" fill="#333" textLength="50.80" lengthAdjust="spacingAndGlyphs" stroke="#333" stroke-width="0.118">➢ 1 hour (sickle cell mice)</text>
<text x="335.60" y="396.70" font-size="11.6" fill="#111" textLength="7.00" lengthAdjust="spacingAndGlyphs" font-weight="bold">E</text>
<path d="M400.80 411.40 L400.80 409.40 L502.00 409.40 L502.00 411.40" fill="none" stroke="#3a3a3a" stroke-width="1.05"/>
<text x="451.40" y="406.70" font-size="5.2" text-anchor="middle" fill="#3a3a3a" textLength="3.45" lengthAdjust="spacingAndGlyphs" font-style="italic" stroke="#3a3a3a" stroke-width="0.130">#</text>
<path d="M400.80 420.60 L400.80 418.60 L453.50 418.60 L453.50 420.60" fill="none" stroke="#3a3a3a" stroke-width="1.05"/>
<text x="427.15" y="415.90" font-size="5.2" text-anchor="middle" fill="#3a3a3a" textLength="6.90" lengthAdjust="spacingAndGlyphs" font-style="italic" stroke="#3a3a3a" stroke-width="0.130">##</text>
<line x1="373.80" y1="430.60" x2="405.00" y2="430.60" stroke="#3a3a3a" stroke-width="1.05" />
<text x="389.40" y="427.10" font-size="6.0" text-anchor="middle" fill="#3a3a3a" textLength="6.70" lengthAdjust="spacingAndGlyphs" stroke="#3a3a3a" stroke-width="0.150">ns</text>
<path d="M423.80 432.20 L423.80 430.20 L452.00 430.20 L452.00 432.20" fill="none" stroke="#3a3a3a" stroke-width="1.05"/>
<circle cx="435.90" cy="426.80" r="0.78" fill="#2a2a2a"/>
<circle cx="437.90" cy="426.80" r="0.78" fill="#2a2a2a"/>
<circle cx="439.90" cy="426.80" r="0.78" fill="#2a2a2a"/>
<path d="M475.00 432.20 L475.00 430.20 L503.20 430.20 L503.20 432.20" fill="none" stroke="#3a3a3a" stroke-width="1.05"/>
<circle cx="489.10" cy="426.80" r="0.78" fill="#2a2a2a"/>
<line x1="411.80" y1="433.50" x2="411.80" y2="525.70" stroke="#333" stroke-width="0.8" stroke-dasharray="0.8 1.3"/>
<line x1="463.30" y1="433.50" x2="463.30" y2="525.70" stroke="#333" stroke-width="0.8" stroke-dasharray="0.8 1.3"/>
<line x1="371.90" y1="480.16" x2="371.90" y2="473.64" stroke="#3a3a3a" stroke-width="0.7" />
<line x1="370.90" y1="473.64" x2="372.90" y2="473.64" stroke="#3a3a3a" stroke-width="0.6" />
<line x1="370.90" y1="480.16" x2="372.90" y2="480.16" stroke="#3a3a3a" stroke-width="0.6" />
<circle cx="371.90" cy="471.50" r="1.25" fill="#8c8c8c" stroke="#505050" stroke-width="0.5"/>
<circle cx="371.90" cy="475.00" r="1.15" fill="#e2e2e2" stroke="#555" stroke-width="0.6"/>
<circle cx="369.40" cy="477.00" r="1.15" fill="#e2e2e2" stroke="#555" stroke-width="0.6"/>
<circle cx="371.90" cy="480.80" r="1.25" fill="#8c8c8c" stroke="#505050" stroke-width="0.5"/>
<line x1="386.20" y1="483.00" x2="386.20" y2="474.46" stroke="#3a3a3a" stroke-width="0.7" />
<line x1="385.20" y1="474.46" x2="387.20" y2="474.46" stroke="#3a3a3a" stroke-width="0.6" />
<line x1="385.20" y1="483.00" x2="387.20" y2="483.00" stroke="#3a3a3a" stroke-width="0.6" />
<circle cx="386.20" cy="470.60" r="1.25" fill="#8c8c8c" stroke="#505050" stroke-width="0.5"/>
<circle cx="386.20" cy="476.50" r="1.15" fill="#e2e2e2" stroke="#555" stroke-width="0.6"/>
<circle cx="386.20" cy="490.80" r="1.25" fill="#8c8c8c" stroke="#505050" stroke-width="0.5"/>
<rect x="381.90" y="476.90" width="8.60" height="1.63" fill="#4aa9d9" />
<line x1="400.20" y1="485.04" x2="400.20" y2="476.90" stroke="#3a3a3a" stroke-width="0.7" />
<line x1="399.20" y1="476.90" x2="401.20" y2="476.90" stroke="#3a3a3a" stroke-width="0.6" />
<line x1="399.20" y1="485.04" x2="401.20" y2="485.04" stroke="#3a3a3a" stroke-width="0.6" />
<circle cx="397.70" cy="486.90" r="1.25" fill="#8c8c8c" stroke="#505050" stroke-width="0.5"/>
<circle cx="402.20" cy="486.50" r="1.25" fill="#8c8c8c" stroke="#505050" stroke-width="0.5"/>
<rect x="395.90" y="476.90" width="8.60" height="4.27" fill="#4aa9d9" />
<circle cx="400.20" cy="478.00" r="1.3" fill="#000"/>
<circle cx="400.20" cy="478.00" r="1.3" fill="#4aa9d9" opacity="0.55"/>
<circle cx="398.40" cy="479.50" r="1.3" fill="#000"/>
<circle cx="398.40" cy="479.50" r="1.3" fill="#4aa9d9" opacity="0.55"/>
<circle cx="402.00" cy="479.50" r="1.3" fill="#000"/>
<circle cx="402.00" cy="479.50" r="1.3" fill="#4aa9d9" opacity="0.55"/>
<circle cx="423.40" cy="473.10" r="1.15" fill="#e2e2e2" stroke="#555" stroke-width="0.6"/>
<circle cx="420.90" cy="475.50" r="1.15" fill="#e2e2e2" stroke="#555" stroke-width="0.6"/>
<circle cx="425.40" cy="474.50" r="1.15" fill="#e2e2e2" stroke="#555" stroke-width="0.6"/>
<circle cx="422.40" cy="478.00" r="1.15" fill="#e2e2e2" stroke="#555" stroke-width="0.6"/>
<circle cx="424.90" cy="478.50" r="1.15" fill="#e2e2e2" stroke="#555" stroke-width="0.6"/>
<circle cx="426.40" cy="473.50" r="1.25" fill="#8c8c8c" stroke="#505050" stroke-width="0.5"/>
<line x1="437.50" y1="493.99" x2="437.50" y2="459.40" stroke="#3a3a3a" stroke-width="0.7" />
<line x1="436.50" y1="459.40" x2="438.50" y2="459.40" stroke="#3a3a3a" stroke-width="0.6" />
<line x1="436.50" y1="493.99" x2="438.50" y2="493.99" stroke="#3a3a3a" stroke-width="0.6" />
<circle cx="437.50" cy="449.50" r="1.25" fill="#8c8c8c" stroke="#505050" stroke-width="0.5"/>
<circle cx="437.50" cy="455.10" r="1.25" fill="#8c8c8c" stroke="#505050" stroke-width="0.5"/>
<circle cx="437.50" cy="466.30" r="1.3" fill="#2e2e2e" stroke="#1a1a1a" stroke-width="0.3"/>
<circle cx="437.50" cy="468.60" r="1.3" fill="#2e2e2e" stroke="#1a1a1a" stroke-width="0.3"/>
<circle cx="437.50" cy="494.00" r="1.25" fill="#8c8c8c" stroke="#505050" stroke-width="0.5"/>
<circle cx="437.50" cy="511.40" r="1.25" fill="#8c8c8c" stroke="#505050" stroke-width="0.5"/>
<circle cx="435.20" cy="476.50" r="1.15" fill="#e2e2e2" stroke="#555" stroke-width="0.6"/>
<circle cx="439.80" cy="476.50" r="1.25" fill="#8c8c8c" stroke="#505050" stroke-width="0.5"/>
<rect x="433.20" y="476.09" width="8.60" height="0.81" fill="#c8102e" />
<line x1="451.90" y1="468.76" x2="451.90" y2="456.55" stroke="#3a3a3a" stroke-width="0.7" />
<line x1="450.90" y1="456.55" x2="452.90" y2="456.55" stroke="#3a3a3a" stroke-width="0.6" />
<line x1="450.90" y1="468.76" x2="452.90" y2="468.76" stroke="#3a3a3a" stroke-width="0.6" />
<circle cx="450.60" cy="440.40" r="1.15" fill="#e2e2e2" stroke="#555" stroke-width="0.6"/>
<circle cx="453.20" cy="439.60" r="1.25" fill="#8c8c8c" stroke="#505050" stroke-width="0.5"/>
<circle cx="453.20" cy="441.80" r="1.25" fill="#8c8c8c" stroke="#505050" stroke-width="0.5"/>
<circle cx="451.90" cy="451.50" r="1.25" fill="#8c8c8c" stroke="#505050" stroke-width="0.5"/>
<rect x="447.60" y="464.28" width="8.60" height="12.62" fill="#c8102e" />
<circle cx="450.40" cy="467.70" r="1.3" fill="#000"/>
<circle cx="450.40" cy="467.70" r="1.3" fill="#c8102e" opacity="0.55"/>
<circle cx="453.40" cy="468.20" r="1.3" fill="#000"/>
<circle cx="453.40" cy="468.20" r="1.3" fill="#c8102e" opacity="0.55"/>
<circle cx="451.90" cy="470.80" r="1.3" fill="#000"/>
<circle cx="451.90" cy="470.80" r="1.3" fill="#c8102e" opacity="0.55"/>
<circle cx="449.90" cy="474.00" r="1.3" fill="#000"/>
<circle cx="449.90" cy="474.00" r="1.3" fill="#c8102e" opacity="0.55"/>
<circle cx="453.90" cy="474.00" r="1.3" fill="#000"/>
<circle cx="453.90" cy="474.00" r="1.3" fill="#c8102e" opacity="0.55"/>
<circle cx="473.40" cy="472.80" r="1.15" fill="#e2e2e2" stroke="#555" stroke-width="0.6"/>
<circle cx="475.70" cy="472.30" r="1.15" fill="#e2e2e2" stroke="#555" stroke-width="0.6"/>
<circle cx="478.00" cy="472.30" r="1.15" fill="#e2e2e2" stroke="#555" stroke-width="0.6"/>
<circle cx="474.50" cy="482.20" r="1.25" fill="#8c8c8c" stroke="#505050" stroke-width="0.5"/>
<circle cx="474.50" cy="484.30" r="1.25" fill="#8c8c8c" stroke="#505050" stroke-width="0.5"/>
<circle cx="472.20" cy="475.00" r="1.15" fill="#e2e2e2" stroke="#555" stroke-width="0.6"/>
<circle cx="489.30" cy="473.00" r="1.25" fill="#8c8c8c" stroke="#505050" stroke-width="0.5"/>
<circle cx="487.30" cy="477.50" r="1.15" fill="#e2e2e2" stroke="#555" stroke-width="0.6"/>
<circle cx="490.30" cy="478.00" r="1.15" fill="#e2e2e2" stroke="#555" stroke-width="0.6"/>
<circle cx="491.80" cy="477.50" r="1.15" fill="#e2e2e2" stroke="#555" stroke-width="0.6"/>
<line x1="503.50" y1="476.09" x2="503.50" y2="469.57" stroke="#3a3a3a" stroke-width="0.7" />
<line x1="502.50" y1="469.57" x2="504.50" y2="469.57" stroke="#3a3a3a" stroke-width="0.6" />
<line x1="502.50" y1="476.09" x2="504.50" y2="476.09" stroke="#3a3a3a" stroke-width="0.6" />
<circle cx="503.00" cy="464.20" r="1.15" fill="#e2e2e2" stroke="#555" stroke-width="0.6"/>
<circle cx="504.30" cy="464.80" r="1.15" fill="#e2e2e2" stroke="#555" stroke-width="0.6"/>
<circle cx="503.00" cy="469.50" r="1.25" fill="#8c8c8c" stroke="#505050" stroke-width="0.5"/>
<circle cx="503.00" cy="481.20" r="1.25" fill="#8c8c8c" stroke="#505050" stroke-width="0.5"/>
<rect x="499.20" y="474.05" width="8.60" height="2.85" fill="#b7cf91" />
<circle cx="501.50" cy="475.50" r="1.3" fill="#000"/>
<circle cx="501.50" cy="475.50" r="1.3" fill="#b7cf91" opacity="0.55"/>
<circle cx="506.00" cy="475.50" r="1.3" fill="#000"/>
<circle cx="506.00" cy="475.50" r="1.3" fill="#b7cf91" opacity="0.55"/>
<line x1="362.60" y1="476.90" x2="513.00" y2="476.90" stroke="#1a1a1a" stroke-width="1.1" />
<line x1="362.60" y1="433.80" x2="362.60" y2="526.20" stroke="#111" stroke-width="1.2" />
<line x1="362.00" y1="525.70" x2="513.00" y2="525.70" stroke="#111" stroke-width="1.2" />
<line x1="359.80" y1="436.20" x2="362.60" y2="436.20" stroke="#111" stroke-width="0.9" />
<text x="356.25" y="438.50" font-size="6.3" text-anchor="end" fill="#333" stroke="#333" stroke-width="0.158">10</text>
<line x1="359.80" y1="444.34" x2="362.60" y2="444.34" stroke="#111" stroke-width="0.9" />
<text x="356.25" y="446.64" font-size="6.3" text-anchor="end" fill="#333" stroke="#333" stroke-width="0.158">8</text>
<line x1="359.80" y1="452.48" x2="362.60" y2="452.48" stroke="#111" stroke-width="0.9" />
<text x="356.25" y="454.78" font-size="6.3" text-anchor="end" fill="#333" stroke="#333" stroke-width="0.158">6</text>
<line x1="359.80" y1="460.62" x2="362.60" y2="460.62" stroke="#111" stroke-width="0.9" />
<text x="356.25" y="462.92" font-size="6.3" text-anchor="end" fill="#333" stroke="#333" stroke-width="0.158">4</text>
<line x1="359.80" y1="468.76" x2="362.60" y2="468.76" stroke="#111" stroke-width="0.9" />
<text x="356.25" y="471.06" font-size="6.3" text-anchor="end" fill="#333" stroke="#333" stroke-width="0.158">2</text>
<line x1="359.80" y1="476.90" x2="362.60" y2="476.90" stroke="#111" stroke-width="0.9" />
<text x="356.25" y="479.20" font-size="6.3" text-anchor="end" fill="#333" stroke="#333" stroke-width="0.158">0</text>
<line x1="359.80" y1="485.04" x2="362.60" y2="485.04" stroke="#111" stroke-width="0.9" />
<text x="356.25" y="487.34" font-size="6.3" text-anchor="end" fill="#333" stroke="#333" stroke-width="0.158">−2</text>
<line x1="359.80" y1="493.18" x2="362.60" y2="493.18" stroke="#111" stroke-width="0.9" />
<text x="356.25" y="495.48" font-size="6.3" text-anchor="end" fill="#333" stroke="#333" stroke-width="0.158">−4</text>
<line x1="359.80" y1="501.32" x2="362.60" y2="501.32" stroke="#111" stroke-width="0.9" />
<text x="356.25" y="503.62" font-size="6.3" text-anchor="end" fill="#333" stroke="#333" stroke-width="0.158">−6</text>
<line x1="359.80" y1="509.46" x2="362.60" y2="509.46" stroke="#111" stroke-width="0.9" />
<text x="356.25" y="511.76" font-size="6.3" text-anchor="end" fill="#333" stroke="#333" stroke-width="0.158">−8</text>
<line x1="359.80" y1="517.60" x2="362.60" y2="517.60" stroke="#111" stroke-width="0.9" />
<text x="356.25" y="519.90" font-size="6.3" text-anchor="end" fill="#333" stroke="#333" stroke-width="0.158">−10</text>
<line x1="359.80" y1="525.74" x2="362.60" y2="525.74" stroke="#111" stroke-width="0.9" />
<text x="356.25" y="528.04" font-size="6.3" text-anchor="end" fill="#333" stroke="#333" stroke-width="0.158">−12</text>
<line x1="371.90" y1="525.70" x2="371.90" y2="528.90" stroke="#111" stroke-width="0.9" />
<text x="374.20" y="534.30" font-size="7.0" text-anchor="end" fill="#333" textLength="15.60" lengthAdjust="spacingAndGlyphs" transform="rotate(-45 374.20 534.30)" stroke="#333" stroke-width="0.084">Day 0</text>
<line x1="386.20" y1="525.70" x2="386.20" y2="528.90" stroke="#111" stroke-width="0.9" />
<text x="388.50" y="534.30" font-size="7.0" text-anchor="end" fill="#333" textLength="15.60" lengthAdjust="spacingAndGlyphs" transform="rotate(-45 388.50 534.30)" stroke="#333" stroke-width="0.084">Day 7</text>
<line x1="400.20" y1="525.70" x2="400.20" y2="528.90" stroke="#111" stroke-width="0.9" />
<text x="402.50" y="534.30" font-size="7.0" text-anchor="end" fill="#333" textLength="19.20" lengthAdjust="spacingAndGlyphs" transform="rotate(-45 402.50 534.30)" stroke="#333" stroke-width="0.084">Day 14</text>
<line x1="423.40" y1="525.70" x2="423.40" y2="528.90" stroke="#111" stroke-width="0.9" />
<text x="425.70" y="534.30" font-size="7.0" text-anchor="end" fill="#333" textLength="15.60" lengthAdjust="spacingAndGlyphs" transform="rotate(-45 425.70 534.30)" stroke="#333" stroke-width="0.084">Day 0</text>
<line x1="437.50" y1="525.70" x2="437.50" y2="528.90" stroke="#111" stroke-width="0.9" />
<text x="439.80" y="534.30" font-size="7.0" text-anchor="end" fill="#333" textLength="15.60" lengthAdjust="spacingAndGlyphs" transform="rotate(-45 439.80 534.30)" stroke="#333" stroke-width="0.084">Day 7</text>
<line x1="451.90" y1="525.70" x2="451.90" y2="528.90" stroke="#111" stroke-width="0.9" />
<text x="454.20" y="534.30" font-size="7.0" text-anchor="end" fill="#333" textLength="19.20" lengthAdjust="spacingAndGlyphs" transform="rotate(-45 454.20 534.30)" stroke="#333" stroke-width="0.084">Day 14</text>
<line x1="475.20" y1="525.70" x2="475.20" y2="528.90" stroke="#111" stroke-width="0.9" />
<text x="477.50" y="534.30" font-size="7.0" text-anchor="end" fill="#333" textLength="15.60" lengthAdjust="spacingAndGlyphs" transform="rotate(-45 477.50 534.30)" stroke="#333" stroke-width="0.084">Day 0</text>
<line x1="489.30" y1="525.70" x2="489.30" y2="528.90" stroke="#111" stroke-width="0.9" />
<text x="491.60" y="534.30" font-size="7.0" text-anchor="end" fill="#333" textLength="15.60" lengthAdjust="spacingAndGlyphs" transform="rotate(-45 491.60 534.30)" stroke="#333" stroke-width="0.084">Day 7</text>
<line x1="503.50" y1="525.70" x2="503.50" y2="528.90" stroke="#111" stroke-width="0.9" />
<text x="505.80" y="534.30" font-size="7.0" text-anchor="end" fill="#333" textLength="19.20" lengthAdjust="spacingAndGlyphs" transform="rotate(-45 505.80 534.30)" stroke="#333" stroke-width="0.084">Day 14</text>
<text x="386.20" y="520.20" font-size="6.6" text-anchor="middle" fill="#333" textLength="16.00" lengthAdjust="spacingAndGlyphs" stroke="#333" stroke-width="0.165">Sham</text>
<text x="437.80" y="520.20" font-size="6.6" text-anchor="middle" fill="#333" textLength="39.60" lengthAdjust="spacingAndGlyphs" stroke="#333" stroke-width="0.165">tFUS to S1HL</text>
<text x="489.30" y="520.20" font-size="6.6" text-anchor="middle" fill="#333" textLength="41.00" lengthAdjust="spacingAndGlyphs" stroke="#333" stroke-width="0.165">tFUS to Insula</text>
<text x="341.20" y="478.50" font-size="7.4" text-anchor="middle" fill="#333" textLength="33.00" lengthAdjust="spacingAndGlyphs" transform="rotate(-90 341.20 478.50)" stroke="#333" stroke-width="0.089">Δ hPWL (s)</text>
</svg></body></html>
